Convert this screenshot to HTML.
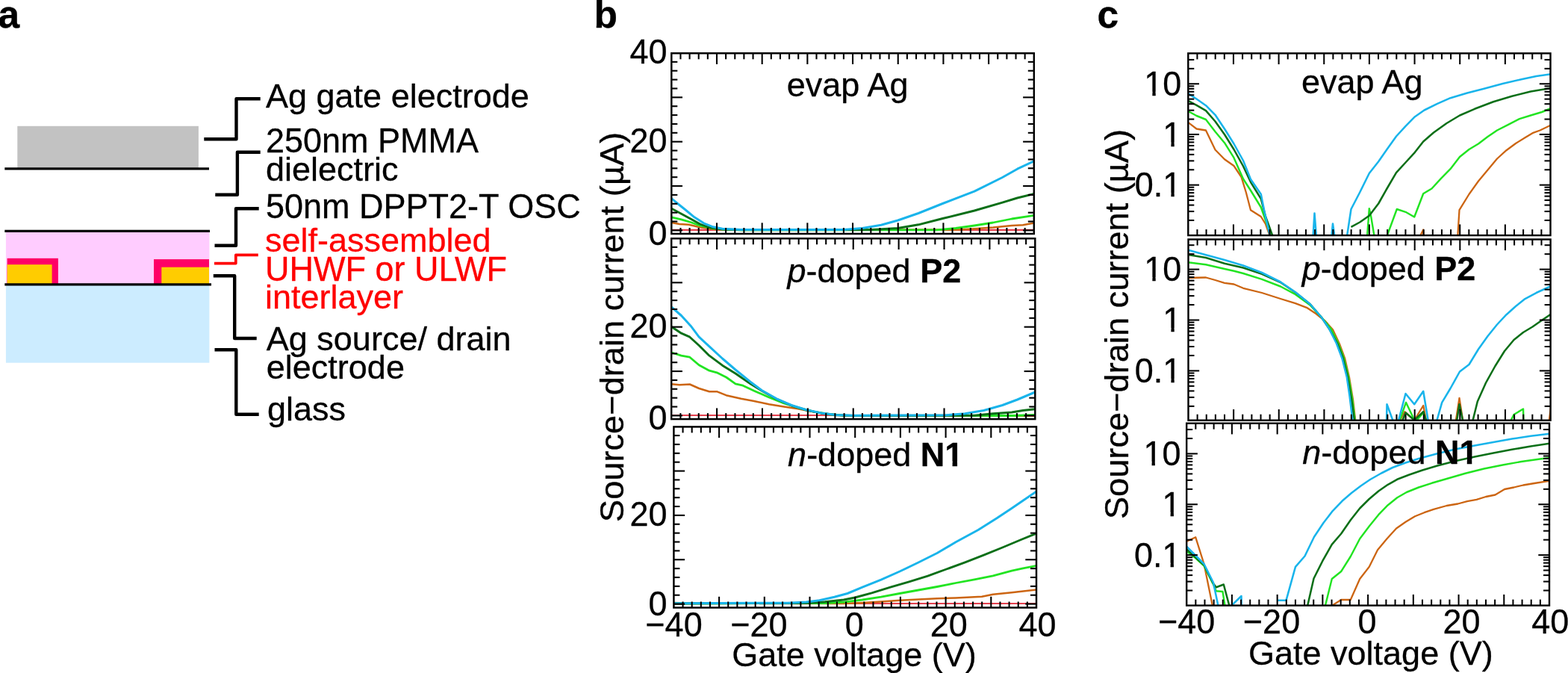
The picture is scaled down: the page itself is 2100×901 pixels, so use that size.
<!DOCTYPE html>
<html lang="en"><head><meta charset="utf-8"><title>Figure</title>
<style>
html,body{margin:0;padding:0;background:#fff;}
body{width:2100px;height:901px;overflow:hidden;}
svg{display:block;font-family:"Liberation Sans", sans-serif;}
svg text{white-space:pre;stroke-width:0.3px;stroke-linejoin:round;}
</style></head><body>
<svg width="2100" height="901" viewBox="0 0 2100 901">
<rect x="0" y="0" width="2100" height="901" fill="#fff"/>
<text x="-2.4" y="36.6" font-size="51.5" fill="#000" stroke="#000" text-anchor="start" font-weight="bold" >a</text>
<text x="795.4" y="36.6" font-size="51.5" fill="#000" stroke="#000" text-anchor="start" font-weight="bold" >b</text>
<text x="1469.4" y="36.6" font-size="51.5" fill="#000" stroke="#000" text-anchor="start" font-weight="bold" >c</text>
<rect x="23.30" y="168.80" width="242.60" height="56.20" fill="#C2C2C2"/>
<line x1="6.30" y1="225.80" x2="280.00" y2="225.80" stroke="#000" stroke-width="3.3" stroke-linecap="butt"/>
<rect x="7.90" y="310.00" width="272.50" height="70.00" fill="#FFCCFF"/>
<rect x="9.60" y="345.80" width="68.30" height="34.20" fill="#FF0066"/>
<rect x="9.60" y="354.20" width="60.00" height="25.80" fill="#FFCC00"/>
<rect x="206.00" y="347.10" width="74.00" height="32.90" fill="#FF0066"/>
<rect x="216.30" y="357.70" width="63.70" height="22.30" fill="#FFCC00"/>
<rect x="7.90" y="381.00" width="272.50" height="104.70" fill="#CCECFF"/>
<line x1="6.30" y1="309.40" x2="281.00" y2="309.40" stroke="#000" stroke-width="3.2" stroke-linecap="butt"/>
<line x1="6.30" y1="380.80" x2="283.00" y2="380.80" stroke="#000" stroke-width="3.2" stroke-linecap="butt"/>
<polyline points="273.30,186.30 316.50,186.30 316.50,132.30 348.70,132.30" fill="none" stroke="#000" stroke-width="4.4" stroke-linejoin="round" stroke-linecap="butt"/>
<polyline points="348.70,203.70 317.90,203.70 317.90,260.80 288.30,260.80" fill="none" stroke="#000" stroke-width="4.4" stroke-linejoin="round" stroke-linecap="butt"/>
<polyline points="346.70,279.20 316.00,279.20 316.00,328.70 287.50,328.70" fill="none" stroke="#000" stroke-width="4.4" stroke-linejoin="round" stroke-linecap="butt"/>
<polyline points="287.00,352.60 315.80,352.60 315.80,341.40 345.80,341.40" fill="none" stroke="#FF0000" stroke-width="3.7" stroke-linejoin="round" stroke-linecap="butt"/>
<polyline points="285.80,369.20 314.20,369.20 314.20,453.00 343.70,453.00" fill="none" stroke="#000" stroke-width="4.4" stroke-linejoin="round" stroke-linecap="butt"/>
<polyline points="287.50,468.30 316.30,468.30 316.30,554.70 346.70,554.70" fill="none" stroke="#000" stroke-width="4.4" stroke-linejoin="round" stroke-linecap="butt"/>
<text transform="translate(356,143.7) scale(1,1.0)" font-size="45" fill="#000" stroke="#000">Ag gate electrode</text>
<text transform="translate(356,204.2) scale(1,1.015)" font-size="45" fill="#000" stroke="#000">250nm PMMA</text>
<text transform="translate(356,242.4) scale(1,1.0)" font-size="45" fill="#000" stroke="#000">dielectric</text>
<text transform="translate(356,291.9) scale(1,1.02)" font-size="45" fill="#000" stroke="#000">50nm DPPT2-T OSC</text>
<text transform="translate(355,337) scale(1,1.0)" font-size="45" fill="#FF0000" stroke="#FF0000">self-assembled</text>
<text transform="translate(355,376.1) scale(1,1.02)" font-size="45" fill="#FF0000" stroke="#FF0000">UHWF or ULWF</text>
<text transform="translate(355,413.2) scale(1,1.0)" font-size="45" fill="#FF0000" stroke="#FF0000">interlayer</text>
<text transform="translate(356.8,469.4) scale(1,1.0)" font-size="45" fill="#000" stroke="#000">Ag source/ drain</text>
<text transform="translate(356.8,507.1) scale(1,1.0)" font-size="45" fill="#000" stroke="#000">electrode</text>
<text transform="translate(358,562.5) scale(1,1.0)" font-size="45" fill="#000" stroke="#000">glass</text>
<defs>
<clipPath id="cp0"><rect x="899.3" y="71.3" width="485.5" height="241.7"/></clipPath>
<clipPath id="cp1"><rect x="899.2" y="319.3" width="487.0999999999999" height="241.8"/></clipPath>
<clipPath id="cp2"><rect x="902.4" y="571.4" width="485.6" height="242.10000000000002"/></clipPath>
<clipPath id="cp3"><rect x="1591.3" y="71.4" width="485.20000000000005" height="243.70000000000002"/></clipPath>
<clipPath id="cp4"><rect x="1591.5" y="320.5" width="485.0999999999999" height="242.20000000000005"/></clipPath>
<clipPath id="cp5"><rect x="1589.2" y="566.7" width="485.79999999999995" height="243.89999999999998"/></clipPath>
</defs>
<polyline points="899.5,307.9 1385.5,307.9" fill="none" stroke="#E4404E" stroke-width="2.1" stroke-linejoin="round" stroke-linecap="butt" clip-path="url(#cp0)"/>
<polyline points="899.5,298.0 910.0,300.0 922.5,300.8 937.5,304.2 955.0,306.8 980.0,307.8 1280.0,307.8 1305.0,306.2 1330.0,304.5 1355.0,302.0 1370.0,301.2 1386.2,298.2" fill="none" stroke="#CC6512" stroke-width="2.5" stroke-linejoin="round" stroke-linecap="butt" clip-path="url(#cp0)"/>
<polyline points="899.5,290.8 912.5,293.8 925.0,297.5 937.5,302.0 952.5,305.5 967.5,307.2 992.5,307.8 1255.0,307.8 1280.0,305.5 1305.0,302.0 1330.0,298.0 1355.0,293.0 1386.2,288.2" fill="none" stroke="#22E422" stroke-width="2.8" stroke-linejoin="round" stroke-linecap="butt" clip-path="url(#cp0)"/>
<polyline points="899.5,279.2 912.5,286.2 925.0,293.0 937.5,300.0 950.0,304.5 967.5,307.0 992.5,307.8 1167.5,307.5 1202.5,305.5 1230.0,300.8 1262.5,292.5 1305.0,282.0 1342.5,271.2 1362.5,265.0 1386.2,259.2" fill="none" stroke="#0B6F18" stroke-width="2.9" stroke-linejoin="round" stroke-linecap="butt" clip-path="url(#cp0)"/>
<polyline points="899.5,265.8 907.5,272.5 917.5,280.5 930.0,290.8 942.5,298.8 955.0,303.8 967.5,306.2 992.5,307.5 1130.0,307.5 1155.0,305.5 1180.0,301.2 1202.5,295.0 1230.0,285.5 1262.5,272.5 1305.0,256.2 1342.5,237.5 1362.5,226.2 1386.2,215.0" fill="none" stroke="#19B4EB" stroke-width="3.0" stroke-linejoin="round" stroke-linecap="butt" clip-path="url(#cp0)"/>
<polyline points="899.5,556.0 1385.5,556.0" fill="none" stroke="#E4404E" stroke-width="2.1" stroke-linejoin="round" stroke-linecap="butt" clip-path="url(#cp1)"/>
<polyline points="899.5,514.2 910.0,515.2 923.8,514.5 936.2,520.0 950.0,524.2 960.0,524.2 972.5,529.2 992.5,533.8 1010.0,537.0 1030.0,541.2 1050.0,544.5 1070.0,547.5 1090.0,551.5 1110.0,554.5 1130.0,556.2 1386.2,556.8" fill="none" stroke="#CC6512" stroke-width="2.5" stroke-linejoin="round" stroke-linecap="butt" clip-path="url(#cp1)"/>
<polyline points="899.5,472.0 912.5,476.2 923.8,478.2 936.2,488.8 950.0,496.2 960.0,498.8 972.5,505.0 985.0,513.8 995.0,516.2 1010.0,523.2 1030.0,532.0 1050.0,540.0 1070.0,546.2 1090.0,551.2 1110.0,554.5 1130.0,556.2 1355.0,556.5 1386.2,555.5" fill="none" stroke="#22E422" stroke-width="2.8" stroke-linejoin="round" stroke-linecap="butt" clip-path="url(#cp1)"/>
<polyline points="899.5,437.5 912.5,446.2 923.8,451.2 936.2,462.5 950.0,476.2 967.5,489.2 985.0,500.0 1005.0,513.8 1020.0,523.0 1040.0,534.2 1060.0,543.0 1080.0,549.2 1100.0,553.2 1120.0,555.8 1142.5,556.5 1305.0,556.2 1330.0,553.8 1355.0,552.0 1370.0,549.5 1386.2,547.8" fill="none" stroke="#0B6F18" stroke-width="2.9" stroke-linejoin="round" stroke-linecap="butt" clip-path="url(#cp1)"/>
<polyline points="899.5,411.2 912.5,422.5 925.0,436.2 936.2,451.2 950.0,463.8 967.5,480.0 985.0,495.0 1005.0,511.2 1020.0,522.5 1040.0,533.8 1060.0,542.5 1080.0,548.8 1100.0,553.0 1120.0,555.5 1142.5,556.2 1267.5,555.8 1292.5,553.8 1317.5,549.5 1342.5,542.5 1362.5,535.0 1386.2,525.0" fill="none" stroke="#19B4EB" stroke-width="3.0" stroke-linejoin="round" stroke-linecap="butt" clip-path="url(#cp1)"/>
<polyline points="902.5,808.0 1388.0,808.0" fill="none" stroke="#E4404E" stroke-width="2.1" stroke-linejoin="round" stroke-linecap="butt" clip-path="url(#cp2)"/>
<polyline points="902.5,807.0 917.5,807.5 1130.0,808.0 1155.0,807.0 1180.0,805.5 1205.0,803.8 1230.0,802.5 1255.0,801.2 1280.0,800.5 1315.0,798.8 1330.0,795.8 1355.0,793.2 1388.8,789.5" fill="none" stroke="#CC6512" stroke-width="2.5" stroke-linejoin="round" stroke-linecap="butt" clip-path="url(#cp2)"/>
<polyline points="902.5,808.0 1105.0,807.5 1130.0,806.2 1155.0,803.0 1180.0,799.2 1205.0,794.5 1230.0,790.0 1255.0,785.5 1280.0,780.5 1305.0,775.8 1330.0,770.8 1355.0,764.2 1370.0,760.8 1388.8,757.2" fill="none" stroke="#22E422" stroke-width="2.8" stroke-linejoin="round" stroke-linecap="butt" clip-path="url(#cp2)"/>
<polyline points="902.5,808.0 1080.0,807.5 1105.0,805.8 1130.0,803.0 1145.0,800.0 1167.5,793.8 1192.5,786.2 1217.5,778.8 1242.5,771.2 1267.5,762.0 1292.5,752.8 1317.5,743.2 1342.5,733.0 1367.5,722.5 1388.8,713.8" fill="none" stroke="#0B6F18" stroke-width="2.9" stroke-linejoin="round" stroke-linecap="butt" clip-path="url(#cp2)"/>
<polyline points="902.5,807.8 1055.0,807.2 1080.0,806.0 1097.5,803.8 1117.5,799.2 1135.0,794.5 1155.0,786.2 1180.0,776.2 1205.0,765.0 1230.0,753.0 1255.0,740.5 1280.0,725.8 1310.0,709.5 1335.0,693.8 1355.0,680.5 1370.0,670.2 1388.8,657.5" fill="none" stroke="#19B4EB" stroke-width="3.0" stroke-linejoin="round" stroke-linecap="butt" clip-path="url(#cp2)"/>
<polyline points="1591.2,163.8 1602.5,172.5 1615.0,174.5 1627.5,200.5 1640.0,213.2 1652.5,222.0 1662.5,237.0 1668.8,257.5 1675.0,281.2 1688.8,290.0 1695.0,300.0 1701.2,317.5" fill="none" stroke="#CC6512" stroke-width="2.3" stroke-linejoin="round" stroke-linecap="butt" clip-path="url(#cp3)"/>
<polyline points="1901.2,317.5 1906.2,307.5 1906.5,317.5" fill="none" stroke="#CC6512" stroke-width="2.3" stroke-linejoin="round" stroke-linecap="butt" clip-path="url(#cp3)"/>
<polyline points="1952.2,317.5 1954.5,281.2 1967.5,260.0 1980.0,242.5 1992.5,227.5 2005.0,212.5 2017.5,201.2 2030.0,192.0 2042.5,184.2 2052.5,178.2 2062.5,174.5 2077.2,167.5" fill="none" stroke="#CC6512" stroke-width="2.3" stroke-linejoin="round" stroke-linecap="butt" clip-path="url(#cp3)"/>
<polyline points="1591.2,148.8 1602.5,155.0 1615.0,160.0 1627.5,176.2 1640.0,191.2 1652.5,211.2 1665.0,239.5 1675.0,255.0 1688.8,277.5 1695.0,295.0 1702.5,317.5" fill="none" stroke="#22E422" stroke-width="2.45" stroke-linejoin="round" stroke-linecap="butt" clip-path="url(#cp3)"/>
<polyline points="1831.0,317.5 1833.8,279.2 1836.2,290.0 1840.8,317.5" fill="none" stroke="#22E422" stroke-width="2.45" stroke-linejoin="round" stroke-linecap="butt" clip-path="url(#cp3)"/>
<polyline points="1857.0,317.5 1870.8,280.0 1882.5,283.8 1894.2,290.5 1906.2,259.2 1917.5,252.5 1930.0,238.8 1942.5,226.2 1955.0,210.0 1967.5,200.0 1980.0,192.5 1992.5,183.0 2005.0,174.5 2020.0,166.8 2035.0,159.2 2050.0,154.5 2065.0,150.0 2077.2,145.0" fill="none" stroke="#22E422" stroke-width="2.45" stroke-linejoin="round" stroke-linecap="butt" clip-path="url(#cp3)"/>
<polyline points="1591.2,135.0 1602.5,140.8 1615.0,148.2 1627.5,162.5 1640.0,180.0 1652.5,200.0 1665.0,222.5 1675.0,243.8 1688.8,266.2 1695.0,290.0 1705.0,317.5" fill="none" stroke="#0B6F18" stroke-width="2.55" stroke-linejoin="round" stroke-linecap="butt" clip-path="url(#cp3)"/>
<polyline points="1809.5,303.8 1821.2,297.5 1833.8,288.8 1846.2,272.5 1857.5,252.5 1870.0,231.2 1882.5,217.5 1895.0,203.8 1906.2,189.5 1920.0,177.5 1937.5,165.0 1955.0,154.5 1975.0,145.8 2000.0,136.2 2025.0,128.8 2050.0,122.5 2077.2,118.0" fill="none" stroke="#0B6F18" stroke-width="2.55" stroke-linejoin="round" stroke-linecap="butt" clip-path="url(#cp3)"/>
<polyline points="1591.2,125.0 1602.5,132.5 1615.0,141.2 1627.5,153.8 1640.0,172.5 1652.5,192.5 1665.0,215.0 1675.0,240.0 1688.8,260.0 1693.8,285.0 1701.2,317.5" fill="none" stroke="#19B4EB" stroke-width="2.55" stroke-linejoin="round" stroke-linecap="butt" clip-path="url(#cp3)"/>
<polyline points="1758.5,317.5 1760.5,285.5 1763.0,317.5" fill="none" stroke="#19B4EB" stroke-width="2.55" stroke-linejoin="round" stroke-linecap="butt" clip-path="url(#cp3)"/>
<polyline points="1783.2,317.5 1785.0,299.5 1787.5,317.5" fill="none" stroke="#19B4EB" stroke-width="2.55" stroke-linejoin="round" stroke-linecap="butt" clip-path="url(#cp3)"/>
<polyline points="1803.8,317.5 1809.5,280.0 1821.2,257.5 1833.8,232.0 1846.2,216.2 1857.5,200.0 1870.0,182.5 1882.5,168.8 1895.0,156.2 1907.5,147.5 1925.0,138.8 1942.5,131.2 1965.0,124.5 1987.5,118.8 2012.5,112.0 2037.5,106.2 2057.5,102.0 2077.2,99.2" fill="none" stroke="#19B4EB" stroke-width="2.55" stroke-linejoin="round" stroke-linecap="butt" clip-path="url(#cp3)"/>
<polyline points="1591.2,372.0 1615.0,371.5 1627.5,375.0 1640.0,378.8 1652.5,380.5 1665.0,385.8 1690.0,392.0 1715.0,400.0 1735.0,406.2 1750.0,411.8 1762.5,420.0 1775.0,430.0 1785.0,441.2 1793.8,460.0 1801.2,480.0 1807.0,505.0 1812.0,535.0 1815.5,565.0" fill="none" stroke="#CC6512" stroke-width="2.3" stroke-linejoin="round" stroke-linecap="butt" clip-path="url(#cp4)"/>
<polyline points="1873.8,565.0 1881.2,551.2 1894.2,562.5 1906.2,543.0 1910.5,565.0" fill="none" stroke="#CC6512" stroke-width="2.3" stroke-linejoin="round" stroke-linecap="butt" clip-path="url(#cp4)"/>
<polyline points="1949.5,565.0 1954.5,533.0 1959.5,565.0" fill="none" stroke="#CC6512" stroke-width="2.3" stroke-linejoin="round" stroke-linecap="butt" clip-path="url(#cp4)"/>
<polyline points="2074.5,565.0 2077.2,543.8" fill="none" stroke="#CC6512" stroke-width="2.3" stroke-linejoin="round" stroke-linecap="butt" clip-path="url(#cp4)"/>
<polyline points="1591.2,351.2 1615.0,354.2 1640.0,360.0 1652.5,362.8 1665.0,366.0 1690.0,373.8 1715.0,383.5 1735.0,394.2 1755.0,408.8 1770.0,425.0 1782.5,440.0 1792.5,460.0 1800.0,480.0 1806.2,505.0 1811.2,535.0 1815.0,565.0" fill="none" stroke="#22E422" stroke-width="2.45" stroke-linejoin="round" stroke-linecap="butt" clip-path="url(#cp4)"/>
<polyline points="1873.8,565.0 1883.0,538.8 1895.5,565.0 1906.2,552.5 1910.5,565.0" fill="none" stroke="#22E422" stroke-width="2.45" stroke-linejoin="round" stroke-linecap="butt" clip-path="url(#cp4)"/>
<polyline points="2022.5,565.0 2027.5,555.0 2040.0,547.5 2040.5,565.0" fill="none" stroke="#22E422" stroke-width="2.45" stroke-linejoin="round" stroke-linecap="butt" clip-path="url(#cp4)"/>
<polyline points="1591.2,341.0 1615.0,345.0 1640.0,352.8 1665.0,358.5 1690.0,366.8 1715.0,378.0 1735.0,391.5 1755.0,407.5 1770.0,425.0 1780.0,440.0 1791.2,460.0 1798.8,480.0 1805.0,505.0 1810.0,535.0 1814.2,565.0" fill="none" stroke="#0B6F18" stroke-width="2.55" stroke-linejoin="round" stroke-linecap="butt" clip-path="url(#cp4)"/>
<polyline points="1877.5,565.0 1882.5,552.5 1894.2,562.5 1906.2,551.2 1910.5,565.0" fill="none" stroke="#0B6F18" stroke-width="2.55" stroke-linejoin="round" stroke-linecap="butt" clip-path="url(#cp4)"/>
<polyline points="1950.8,565.0 1954.5,541.2 1959.5,565.0" fill="none" stroke="#0B6F18" stroke-width="2.55" stroke-linejoin="round" stroke-linecap="butt" clip-path="url(#cp4)"/>
<polyline points="1972.0,565.0 1978.8,537.5 1990.0,512.5 2002.5,490.0 2015.0,470.0 2027.5,455.0 2040.0,445.0 2052.5,437.5 2065.0,428.8 2077.2,420.5" fill="none" stroke="#0B6F18" stroke-width="2.55" stroke-linejoin="round" stroke-linecap="butt" clip-path="url(#cp4)"/>
<polyline points="1591.2,334.8 1615.0,341.2 1640.0,348.0 1665.0,355.5 1690.0,365.0 1715.0,377.5 1735.0,391.2 1755.0,407.5 1770.0,425.0 1780.0,440.0 1790.0,460.0 1797.5,480.0 1803.8,505.0 1807.5,530.0 1811.8,565.0" fill="none" stroke="#19B4EB" stroke-width="2.55" stroke-linejoin="round" stroke-linecap="butt" clip-path="url(#cp4)"/>
<polyline points="1857.0,565.0 1857.5,541.2 1866.2,565.0" fill="none" stroke="#19B4EB" stroke-width="2.55" stroke-linejoin="round" stroke-linecap="butt" clip-path="url(#cp4)"/>
<polyline points="1872.5,565.0 1882.5,527.0 1894.2,541.2 1906.2,523.8 1913.0,565.0" fill="none" stroke="#19B4EB" stroke-width="2.55" stroke-linejoin="round" stroke-linecap="butt" clip-path="url(#cp4)"/>
<polyline points="1923.8,565.0 1931.2,538.8 1942.5,520.0 1955.0,497.5 1967.5,488.0 1980.0,467.5 1992.5,450.0 2005.0,434.5 2017.5,421.2 2030.0,410.0 2042.5,400.0 2057.5,392.0 2077.2,383.0" fill="none" stroke="#19B4EB" stroke-width="2.55" stroke-linejoin="round" stroke-linecap="butt" clip-path="url(#cp4)"/>
<polyline points="1588.8,725.0 1601.2,719.2 1612.5,755.0 1624.2,812.5" fill="none" stroke="#CC6512" stroke-width="2.3" stroke-linejoin="round" stroke-linecap="butt" clip-path="url(#cp5)"/>
<polyline points="1781.2,812.5 1796.2,803.0 1808.8,803.0 1821.2,775.0 1833.8,758.8 1845.0,736.2 1857.5,721.2 1870.0,707.5 1882.5,698.8 1895.0,691.2 1907.5,686.2 1920.0,681.8 1937.5,677.0 1952.5,674.5 1965.0,671.2 1977.5,668.8 1990.0,665.0 2002.5,662.5 2015.0,655.0 2027.5,652.5 2040.0,649.5 2055.0,647.0 2075.0,643.8" fill="none" stroke="#CC6512" stroke-width="2.3" stroke-linejoin="round" stroke-linecap="butt" clip-path="url(#cp5)"/>
<polyline points="1588.8,737.5 1600.0,746.2 1612.5,757.5 1625.0,782.5 1628.8,791.2 1637.5,792.0 1640.8,812.5" fill="none" stroke="#22E422" stroke-width="2.45" stroke-linejoin="round" stroke-linecap="butt" clip-path="url(#cp5)"/>
<polyline points="1774.5,812.5 1783.8,775.0 1796.2,765.0 1808.8,745.0 1821.2,721.2 1833.8,704.5 1846.2,689.2 1858.8,676.2 1871.2,666.2 1883.8,659.0 1900.0,652.5 1917.5,646.8 1937.5,641.0 1962.5,633.8 1987.5,627.5 2012.5,622.5 2037.5,618.0 2062.5,614.5 2075.0,613.0" fill="none" stroke="#22E422" stroke-width="2.45" stroke-linejoin="round" stroke-linecap="butt" clip-path="url(#cp5)"/>
<polyline points="1588.8,735.0 1600.0,745.0 1612.5,756.2 1625.0,781.2 1628.8,786.2 1638.8,782.5 1646.8,812.5" fill="none" stroke="#0B6F18" stroke-width="2.55" stroke-linejoin="round" stroke-linecap="butt" clip-path="url(#cp5)"/>
<polyline points="1750.8,812.5 1759.5,774.5 1771.2,751.2 1783.8,728.8 1796.2,714.5 1808.8,696.2 1821.2,680.5 1833.8,668.0 1846.2,657.5 1858.8,648.8 1871.2,641.8 1887.5,635.5 1905.0,629.5 1925.0,623.5 1950.0,617.0 1975.0,611.5 2000.0,606.5 2025.0,601.8 2050.0,597.5 2075.0,593.8" fill="none" stroke="#0B6F18" stroke-width="2.55" stroke-linejoin="round" stroke-linecap="butt" clip-path="url(#cp5)"/>
<polyline points="1588.8,731.2 1600.0,742.5 1612.5,755.0 1625.0,780.0 1631.8,812.5" fill="none" stroke="#19B4EB" stroke-width="2.55" stroke-linejoin="round" stroke-linecap="butt" clip-path="url(#cp5)"/>
<polyline points="1647.5,812.5 1662.5,798.0 1662.8,812.5" fill="none" stroke="#19B4EB" stroke-width="2.55" stroke-linejoin="round" stroke-linecap="butt" clip-path="url(#cp5)"/>
<polyline points="1711.2,803.8 1722.5,803.8 1735.0,758.8 1747.5,744.5 1760.0,718.8 1772.5,700.0 1785.0,683.8 1797.5,670.8 1810.0,660.0 1822.5,650.5 1835.0,642.0 1850.0,633.5 1865.0,626.0 1882.5,619.5 1900.0,614.0 1925.0,607.2 1950.0,601.2 1975.0,596.5 2000.0,592.0 2025.0,587.5 2050.0,583.8 2075.0,580.8" fill="none" stroke="#19B4EB" stroke-width="2.55" stroke-linejoin="round" stroke-linecap="butt" clip-path="url(#cp5)"/>
<line x1="911.44" y1="71.30" x2="911.44" y2="79.30" stroke="#000" stroke-width="2.1" stroke-linecap="butt"/>
<line x1="911.44" y1="313.00" x2="911.44" y2="305.00" stroke="#000" stroke-width="2.1" stroke-linecap="butt"/>
<line x1="923.57" y1="71.30" x2="923.57" y2="79.30" stroke="#000" stroke-width="2.1" stroke-linecap="butt"/>
<line x1="923.57" y1="313.00" x2="923.57" y2="305.00" stroke="#000" stroke-width="2.1" stroke-linecap="butt"/>
<line x1="935.71" y1="71.30" x2="935.71" y2="79.30" stroke="#000" stroke-width="2.1" stroke-linecap="butt"/>
<line x1="935.71" y1="313.00" x2="935.71" y2="305.00" stroke="#000" stroke-width="2.1" stroke-linecap="butt"/>
<line x1="947.85" y1="71.30" x2="947.85" y2="79.30" stroke="#000" stroke-width="2.1" stroke-linecap="butt"/>
<line x1="947.85" y1="313.00" x2="947.85" y2="305.00" stroke="#000" stroke-width="2.1" stroke-linecap="butt"/>
<line x1="959.99" y1="71.30" x2="959.99" y2="86.00" stroke="#000" stroke-width="2.1" stroke-linecap="butt"/>
<line x1="959.99" y1="313.00" x2="959.99" y2="298.30" stroke="#000" stroke-width="2.1" stroke-linecap="butt"/>
<line x1="972.12" y1="71.30" x2="972.12" y2="79.30" stroke="#000" stroke-width="2.1" stroke-linecap="butt"/>
<line x1="972.12" y1="313.00" x2="972.12" y2="305.00" stroke="#000" stroke-width="2.1" stroke-linecap="butt"/>
<line x1="984.26" y1="71.30" x2="984.26" y2="79.30" stroke="#000" stroke-width="2.1" stroke-linecap="butt"/>
<line x1="984.26" y1="313.00" x2="984.26" y2="305.00" stroke="#000" stroke-width="2.1" stroke-linecap="butt"/>
<line x1="996.40" y1="71.30" x2="996.40" y2="79.30" stroke="#000" stroke-width="2.1" stroke-linecap="butt"/>
<line x1="996.40" y1="313.00" x2="996.40" y2="305.00" stroke="#000" stroke-width="2.1" stroke-linecap="butt"/>
<line x1="1008.54" y1="71.30" x2="1008.54" y2="79.30" stroke="#000" stroke-width="2.1" stroke-linecap="butt"/>
<line x1="1008.54" y1="313.00" x2="1008.54" y2="305.00" stroke="#000" stroke-width="2.1" stroke-linecap="butt"/>
<line x1="1020.67" y1="71.30" x2="1020.67" y2="86.00" stroke="#000" stroke-width="2.1" stroke-linecap="butt"/>
<line x1="1020.67" y1="313.00" x2="1020.67" y2="298.30" stroke="#000" stroke-width="2.1" stroke-linecap="butt"/>
<line x1="1032.81" y1="71.30" x2="1032.81" y2="79.30" stroke="#000" stroke-width="2.1" stroke-linecap="butt"/>
<line x1="1032.81" y1="313.00" x2="1032.81" y2="305.00" stroke="#000" stroke-width="2.1" stroke-linecap="butt"/>
<line x1="1044.95" y1="71.30" x2="1044.95" y2="79.30" stroke="#000" stroke-width="2.1" stroke-linecap="butt"/>
<line x1="1044.95" y1="313.00" x2="1044.95" y2="305.00" stroke="#000" stroke-width="2.1" stroke-linecap="butt"/>
<line x1="1057.09" y1="71.30" x2="1057.09" y2="79.30" stroke="#000" stroke-width="2.1" stroke-linecap="butt"/>
<line x1="1057.09" y1="313.00" x2="1057.09" y2="305.00" stroke="#000" stroke-width="2.1" stroke-linecap="butt"/>
<line x1="1069.22" y1="71.30" x2="1069.22" y2="79.30" stroke="#000" stroke-width="2.1" stroke-linecap="butt"/>
<line x1="1069.22" y1="313.00" x2="1069.22" y2="305.00" stroke="#000" stroke-width="2.1" stroke-linecap="butt"/>
<line x1="1081.36" y1="71.30" x2="1081.36" y2="86.00" stroke="#000" stroke-width="2.1" stroke-linecap="butt"/>
<line x1="1081.36" y1="313.00" x2="1081.36" y2="298.30" stroke="#000" stroke-width="2.1" stroke-linecap="butt"/>
<line x1="1093.50" y1="71.30" x2="1093.50" y2="79.30" stroke="#000" stroke-width="2.1" stroke-linecap="butt"/>
<line x1="1093.50" y1="313.00" x2="1093.50" y2="305.00" stroke="#000" stroke-width="2.1" stroke-linecap="butt"/>
<line x1="1105.64" y1="71.30" x2="1105.64" y2="79.30" stroke="#000" stroke-width="2.1" stroke-linecap="butt"/>
<line x1="1105.64" y1="313.00" x2="1105.64" y2="305.00" stroke="#000" stroke-width="2.1" stroke-linecap="butt"/>
<line x1="1117.77" y1="71.30" x2="1117.77" y2="79.30" stroke="#000" stroke-width="2.1" stroke-linecap="butt"/>
<line x1="1117.77" y1="313.00" x2="1117.77" y2="305.00" stroke="#000" stroke-width="2.1" stroke-linecap="butt"/>
<line x1="1129.91" y1="71.30" x2="1129.91" y2="79.30" stroke="#000" stroke-width="2.1" stroke-linecap="butt"/>
<line x1="1129.91" y1="313.00" x2="1129.91" y2="305.00" stroke="#000" stroke-width="2.1" stroke-linecap="butt"/>
<line x1="1142.05" y1="71.30" x2="1142.05" y2="86.00" stroke="#000" stroke-width="2.1" stroke-linecap="butt"/>
<line x1="1142.05" y1="313.00" x2="1142.05" y2="298.30" stroke="#000" stroke-width="2.1" stroke-linecap="butt"/>
<line x1="1154.19" y1="71.30" x2="1154.19" y2="79.30" stroke="#000" stroke-width="2.1" stroke-linecap="butt"/>
<line x1="1154.19" y1="313.00" x2="1154.19" y2="305.00" stroke="#000" stroke-width="2.1" stroke-linecap="butt"/>
<line x1="1166.32" y1="71.30" x2="1166.32" y2="79.30" stroke="#000" stroke-width="2.1" stroke-linecap="butt"/>
<line x1="1166.32" y1="313.00" x2="1166.32" y2="305.00" stroke="#000" stroke-width="2.1" stroke-linecap="butt"/>
<line x1="1178.46" y1="71.30" x2="1178.46" y2="79.30" stroke="#000" stroke-width="2.1" stroke-linecap="butt"/>
<line x1="1178.46" y1="313.00" x2="1178.46" y2="305.00" stroke="#000" stroke-width="2.1" stroke-linecap="butt"/>
<line x1="1190.60" y1="71.30" x2="1190.60" y2="79.30" stroke="#000" stroke-width="2.1" stroke-linecap="butt"/>
<line x1="1190.60" y1="313.00" x2="1190.60" y2="305.00" stroke="#000" stroke-width="2.1" stroke-linecap="butt"/>
<line x1="1202.74" y1="71.30" x2="1202.74" y2="86.00" stroke="#000" stroke-width="2.1" stroke-linecap="butt"/>
<line x1="1202.74" y1="313.00" x2="1202.74" y2="298.30" stroke="#000" stroke-width="2.1" stroke-linecap="butt"/>
<line x1="1214.88" y1="71.30" x2="1214.88" y2="79.30" stroke="#000" stroke-width="2.1" stroke-linecap="butt"/>
<line x1="1214.88" y1="313.00" x2="1214.88" y2="305.00" stroke="#000" stroke-width="2.1" stroke-linecap="butt"/>
<line x1="1227.01" y1="71.30" x2="1227.01" y2="79.30" stroke="#000" stroke-width="2.1" stroke-linecap="butt"/>
<line x1="1227.01" y1="313.00" x2="1227.01" y2="305.00" stroke="#000" stroke-width="2.1" stroke-linecap="butt"/>
<line x1="1239.15" y1="71.30" x2="1239.15" y2="79.30" stroke="#000" stroke-width="2.1" stroke-linecap="butt"/>
<line x1="1239.15" y1="313.00" x2="1239.15" y2="305.00" stroke="#000" stroke-width="2.1" stroke-linecap="butt"/>
<line x1="1251.29" y1="71.30" x2="1251.29" y2="79.30" stroke="#000" stroke-width="2.1" stroke-linecap="butt"/>
<line x1="1251.29" y1="313.00" x2="1251.29" y2="305.00" stroke="#000" stroke-width="2.1" stroke-linecap="butt"/>
<line x1="1263.42" y1="71.30" x2="1263.42" y2="86.00" stroke="#000" stroke-width="2.1" stroke-linecap="butt"/>
<line x1="1263.42" y1="313.00" x2="1263.42" y2="298.30" stroke="#000" stroke-width="2.1" stroke-linecap="butt"/>
<line x1="1275.56" y1="71.30" x2="1275.56" y2="79.30" stroke="#000" stroke-width="2.1" stroke-linecap="butt"/>
<line x1="1275.56" y1="313.00" x2="1275.56" y2="305.00" stroke="#000" stroke-width="2.1" stroke-linecap="butt"/>
<line x1="1287.70" y1="71.30" x2="1287.70" y2="79.30" stroke="#000" stroke-width="2.1" stroke-linecap="butt"/>
<line x1="1287.70" y1="313.00" x2="1287.70" y2="305.00" stroke="#000" stroke-width="2.1" stroke-linecap="butt"/>
<line x1="1299.84" y1="71.30" x2="1299.84" y2="79.30" stroke="#000" stroke-width="2.1" stroke-linecap="butt"/>
<line x1="1299.84" y1="313.00" x2="1299.84" y2="305.00" stroke="#000" stroke-width="2.1" stroke-linecap="butt"/>
<line x1="1311.97" y1="71.30" x2="1311.97" y2="79.30" stroke="#000" stroke-width="2.1" stroke-linecap="butt"/>
<line x1="1311.97" y1="313.00" x2="1311.97" y2="305.00" stroke="#000" stroke-width="2.1" stroke-linecap="butt"/>
<line x1="1324.11" y1="71.30" x2="1324.11" y2="86.00" stroke="#000" stroke-width="2.1" stroke-linecap="butt"/>
<line x1="1324.11" y1="313.00" x2="1324.11" y2="298.30" stroke="#000" stroke-width="2.1" stroke-linecap="butt"/>
<line x1="1336.25" y1="71.30" x2="1336.25" y2="79.30" stroke="#000" stroke-width="2.1" stroke-linecap="butt"/>
<line x1="1336.25" y1="313.00" x2="1336.25" y2="305.00" stroke="#000" stroke-width="2.1" stroke-linecap="butt"/>
<line x1="1348.39" y1="71.30" x2="1348.39" y2="79.30" stroke="#000" stroke-width="2.1" stroke-linecap="butt"/>
<line x1="1348.39" y1="313.00" x2="1348.39" y2="305.00" stroke="#000" stroke-width="2.1" stroke-linecap="butt"/>
<line x1="1360.53" y1="71.30" x2="1360.53" y2="79.30" stroke="#000" stroke-width="2.1" stroke-linecap="butt"/>
<line x1="1360.53" y1="313.00" x2="1360.53" y2="305.00" stroke="#000" stroke-width="2.1" stroke-linecap="butt"/>
<line x1="1372.66" y1="71.30" x2="1372.66" y2="79.30" stroke="#000" stroke-width="2.1" stroke-linecap="butt"/>
<line x1="1372.66" y1="313.00" x2="1372.66" y2="305.00" stroke="#000" stroke-width="2.1" stroke-linecap="butt"/>
<line x1="899.30" y1="308.40" x2="914.00" y2="308.40" stroke="#000" stroke-width="2.1" stroke-linecap="butt"/>
<line x1="1384.80" y1="308.40" x2="1370.10" y2="308.40" stroke="#000" stroke-width="2.1" stroke-linecap="butt"/>
<line x1="899.30" y1="249.05" x2="914.00" y2="249.05" stroke="#000" stroke-width="2.1" stroke-linecap="butt"/>
<line x1="1384.80" y1="249.05" x2="1370.10" y2="249.05" stroke="#000" stroke-width="2.1" stroke-linecap="butt"/>
<line x1="899.30" y1="189.70" x2="914.00" y2="189.70" stroke="#000" stroke-width="2.1" stroke-linecap="butt"/>
<line x1="1384.80" y1="189.70" x2="1370.10" y2="189.70" stroke="#000" stroke-width="2.1" stroke-linecap="butt"/>
<line x1="899.30" y1="130.35" x2="914.00" y2="130.35" stroke="#000" stroke-width="2.1" stroke-linecap="butt"/>
<line x1="1384.80" y1="130.35" x2="1370.10" y2="130.35" stroke="#000" stroke-width="2.1" stroke-linecap="butt"/>
<line x1="899.30" y1="296.53" x2="907.30" y2="296.53" stroke="#000" stroke-width="2.1" stroke-linecap="butt"/>
<line x1="1384.80" y1="296.53" x2="1376.80" y2="296.53" stroke="#000" stroke-width="2.1" stroke-linecap="butt"/>
<line x1="899.30" y1="284.66" x2="907.30" y2="284.66" stroke="#000" stroke-width="2.1" stroke-linecap="butt"/>
<line x1="1384.80" y1="284.66" x2="1376.80" y2="284.66" stroke="#000" stroke-width="2.1" stroke-linecap="butt"/>
<line x1="899.30" y1="272.79" x2="907.30" y2="272.79" stroke="#000" stroke-width="2.1" stroke-linecap="butt"/>
<line x1="1384.80" y1="272.79" x2="1376.80" y2="272.79" stroke="#000" stroke-width="2.1" stroke-linecap="butt"/>
<line x1="899.30" y1="260.92" x2="907.30" y2="260.92" stroke="#000" stroke-width="2.1" stroke-linecap="butt"/>
<line x1="1384.80" y1="260.92" x2="1376.80" y2="260.92" stroke="#000" stroke-width="2.1" stroke-linecap="butt"/>
<line x1="899.30" y1="237.18" x2="907.30" y2="237.18" stroke="#000" stroke-width="2.1" stroke-linecap="butt"/>
<line x1="1384.80" y1="237.18" x2="1376.80" y2="237.18" stroke="#000" stroke-width="2.1" stroke-linecap="butt"/>
<line x1="899.30" y1="225.31" x2="907.30" y2="225.31" stroke="#000" stroke-width="2.1" stroke-linecap="butt"/>
<line x1="1384.80" y1="225.31" x2="1376.80" y2="225.31" stroke="#000" stroke-width="2.1" stroke-linecap="butt"/>
<line x1="899.30" y1="213.44" x2="907.30" y2="213.44" stroke="#000" stroke-width="2.1" stroke-linecap="butt"/>
<line x1="1384.80" y1="213.44" x2="1376.80" y2="213.44" stroke="#000" stroke-width="2.1" stroke-linecap="butt"/>
<line x1="899.30" y1="201.57" x2="907.30" y2="201.57" stroke="#000" stroke-width="2.1" stroke-linecap="butt"/>
<line x1="1384.80" y1="201.57" x2="1376.80" y2="201.57" stroke="#000" stroke-width="2.1" stroke-linecap="butt"/>
<line x1="899.30" y1="177.83" x2="907.30" y2="177.83" stroke="#000" stroke-width="2.1" stroke-linecap="butt"/>
<line x1="1384.80" y1="177.83" x2="1376.80" y2="177.83" stroke="#000" stroke-width="2.1" stroke-linecap="butt"/>
<line x1="899.30" y1="165.96" x2="907.30" y2="165.96" stroke="#000" stroke-width="2.1" stroke-linecap="butt"/>
<line x1="1384.80" y1="165.96" x2="1376.80" y2="165.96" stroke="#000" stroke-width="2.1" stroke-linecap="butt"/>
<line x1="899.30" y1="154.09" x2="907.30" y2="154.09" stroke="#000" stroke-width="2.1" stroke-linecap="butt"/>
<line x1="1384.80" y1="154.09" x2="1376.80" y2="154.09" stroke="#000" stroke-width="2.1" stroke-linecap="butt"/>
<line x1="899.30" y1="142.22" x2="907.30" y2="142.22" stroke="#000" stroke-width="2.1" stroke-linecap="butt"/>
<line x1="1384.80" y1="142.22" x2="1376.80" y2="142.22" stroke="#000" stroke-width="2.1" stroke-linecap="butt"/>
<line x1="899.30" y1="118.48" x2="907.30" y2="118.48" stroke="#000" stroke-width="2.1" stroke-linecap="butt"/>
<line x1="1384.80" y1="118.48" x2="1376.80" y2="118.48" stroke="#000" stroke-width="2.1" stroke-linecap="butt"/>
<line x1="899.30" y1="106.61" x2="907.30" y2="106.61" stroke="#000" stroke-width="2.1" stroke-linecap="butt"/>
<line x1="1384.80" y1="106.61" x2="1376.80" y2="106.61" stroke="#000" stroke-width="2.1" stroke-linecap="butt"/>
<line x1="899.30" y1="94.74" x2="907.30" y2="94.74" stroke="#000" stroke-width="2.1" stroke-linecap="butt"/>
<line x1="1384.80" y1="94.74" x2="1376.80" y2="94.74" stroke="#000" stroke-width="2.1" stroke-linecap="butt"/>
<line x1="899.30" y1="82.87" x2="907.30" y2="82.87" stroke="#000" stroke-width="2.1" stroke-linecap="butt"/>
<line x1="1384.80" y1="82.87" x2="1376.80" y2="82.87" stroke="#000" stroke-width="2.1" stroke-linecap="butt"/>
<rect x="899.3" y="71.3" width="485.5" height="241.7" fill="none" stroke="#000" stroke-width="2.45"/>
<text transform="translate(893.60,327.70) scale(1,1.035)" font-size="45" stroke="#000" text-anchor="end">0</text>
<text transform="translate(893.60,204.10) scale(1,1.035)" font-size="45" stroke="#000" text-anchor="end">20</text>
<text transform="translate(893.60,85.40) scale(1,1.035)" font-size="45" stroke="#000" text-anchor="end">40</text>
<line x1="911.38" y1="319.30" x2="911.38" y2="327.30" stroke="#000" stroke-width="2.1" stroke-linecap="butt"/>
<line x1="911.38" y1="561.10" x2="911.38" y2="553.10" stroke="#000" stroke-width="2.1" stroke-linecap="butt"/>
<line x1="923.56" y1="319.30" x2="923.56" y2="327.30" stroke="#000" stroke-width="2.1" stroke-linecap="butt"/>
<line x1="923.56" y1="561.10" x2="923.56" y2="553.10" stroke="#000" stroke-width="2.1" stroke-linecap="butt"/>
<line x1="935.73" y1="319.30" x2="935.73" y2="327.30" stroke="#000" stroke-width="2.1" stroke-linecap="butt"/>
<line x1="935.73" y1="561.10" x2="935.73" y2="553.10" stroke="#000" stroke-width="2.1" stroke-linecap="butt"/>
<line x1="947.91" y1="319.30" x2="947.91" y2="327.30" stroke="#000" stroke-width="2.1" stroke-linecap="butt"/>
<line x1="947.91" y1="561.10" x2="947.91" y2="553.10" stroke="#000" stroke-width="2.1" stroke-linecap="butt"/>
<line x1="960.09" y1="319.30" x2="960.09" y2="334.00" stroke="#000" stroke-width="2.1" stroke-linecap="butt"/>
<line x1="960.09" y1="561.10" x2="960.09" y2="546.40" stroke="#000" stroke-width="2.1" stroke-linecap="butt"/>
<line x1="972.26" y1="319.30" x2="972.26" y2="327.30" stroke="#000" stroke-width="2.1" stroke-linecap="butt"/>
<line x1="972.26" y1="561.10" x2="972.26" y2="553.10" stroke="#000" stroke-width="2.1" stroke-linecap="butt"/>
<line x1="984.44" y1="319.30" x2="984.44" y2="327.30" stroke="#000" stroke-width="2.1" stroke-linecap="butt"/>
<line x1="984.44" y1="561.10" x2="984.44" y2="553.10" stroke="#000" stroke-width="2.1" stroke-linecap="butt"/>
<line x1="996.62" y1="319.30" x2="996.62" y2="327.30" stroke="#000" stroke-width="2.1" stroke-linecap="butt"/>
<line x1="996.62" y1="561.10" x2="996.62" y2="553.10" stroke="#000" stroke-width="2.1" stroke-linecap="butt"/>
<line x1="1008.80" y1="319.30" x2="1008.80" y2="327.30" stroke="#000" stroke-width="2.1" stroke-linecap="butt"/>
<line x1="1008.80" y1="561.10" x2="1008.80" y2="553.10" stroke="#000" stroke-width="2.1" stroke-linecap="butt"/>
<line x1="1020.98" y1="319.30" x2="1020.98" y2="334.00" stroke="#000" stroke-width="2.1" stroke-linecap="butt"/>
<line x1="1020.98" y1="561.10" x2="1020.98" y2="546.40" stroke="#000" stroke-width="2.1" stroke-linecap="butt"/>
<line x1="1033.15" y1="319.30" x2="1033.15" y2="327.30" stroke="#000" stroke-width="2.1" stroke-linecap="butt"/>
<line x1="1033.15" y1="561.10" x2="1033.15" y2="553.10" stroke="#000" stroke-width="2.1" stroke-linecap="butt"/>
<line x1="1045.33" y1="319.30" x2="1045.33" y2="327.30" stroke="#000" stroke-width="2.1" stroke-linecap="butt"/>
<line x1="1045.33" y1="561.10" x2="1045.33" y2="553.10" stroke="#000" stroke-width="2.1" stroke-linecap="butt"/>
<line x1="1057.51" y1="319.30" x2="1057.51" y2="327.30" stroke="#000" stroke-width="2.1" stroke-linecap="butt"/>
<line x1="1057.51" y1="561.10" x2="1057.51" y2="553.10" stroke="#000" stroke-width="2.1" stroke-linecap="butt"/>
<line x1="1069.68" y1="319.30" x2="1069.68" y2="327.30" stroke="#000" stroke-width="2.1" stroke-linecap="butt"/>
<line x1="1069.68" y1="561.10" x2="1069.68" y2="553.10" stroke="#000" stroke-width="2.1" stroke-linecap="butt"/>
<line x1="1081.86" y1="319.30" x2="1081.86" y2="334.00" stroke="#000" stroke-width="2.1" stroke-linecap="butt"/>
<line x1="1081.86" y1="561.10" x2="1081.86" y2="546.40" stroke="#000" stroke-width="2.1" stroke-linecap="butt"/>
<line x1="1094.04" y1="319.30" x2="1094.04" y2="327.30" stroke="#000" stroke-width="2.1" stroke-linecap="butt"/>
<line x1="1094.04" y1="561.10" x2="1094.04" y2="553.10" stroke="#000" stroke-width="2.1" stroke-linecap="butt"/>
<line x1="1106.22" y1="319.30" x2="1106.22" y2="327.30" stroke="#000" stroke-width="2.1" stroke-linecap="butt"/>
<line x1="1106.22" y1="561.10" x2="1106.22" y2="553.10" stroke="#000" stroke-width="2.1" stroke-linecap="butt"/>
<line x1="1118.39" y1="319.30" x2="1118.39" y2="327.30" stroke="#000" stroke-width="2.1" stroke-linecap="butt"/>
<line x1="1118.39" y1="561.10" x2="1118.39" y2="553.10" stroke="#000" stroke-width="2.1" stroke-linecap="butt"/>
<line x1="1130.57" y1="319.30" x2="1130.57" y2="327.30" stroke="#000" stroke-width="2.1" stroke-linecap="butt"/>
<line x1="1130.57" y1="561.10" x2="1130.57" y2="553.10" stroke="#000" stroke-width="2.1" stroke-linecap="butt"/>
<line x1="1142.75" y1="319.30" x2="1142.75" y2="334.00" stroke="#000" stroke-width="2.1" stroke-linecap="butt"/>
<line x1="1142.75" y1="561.10" x2="1142.75" y2="546.40" stroke="#000" stroke-width="2.1" stroke-linecap="butt"/>
<line x1="1154.93" y1="319.30" x2="1154.93" y2="327.30" stroke="#000" stroke-width="2.1" stroke-linecap="butt"/>
<line x1="1154.93" y1="561.10" x2="1154.93" y2="553.10" stroke="#000" stroke-width="2.1" stroke-linecap="butt"/>
<line x1="1167.11" y1="319.30" x2="1167.11" y2="327.30" stroke="#000" stroke-width="2.1" stroke-linecap="butt"/>
<line x1="1167.11" y1="561.10" x2="1167.11" y2="553.10" stroke="#000" stroke-width="2.1" stroke-linecap="butt"/>
<line x1="1179.28" y1="319.30" x2="1179.28" y2="327.30" stroke="#000" stroke-width="2.1" stroke-linecap="butt"/>
<line x1="1179.28" y1="561.10" x2="1179.28" y2="553.10" stroke="#000" stroke-width="2.1" stroke-linecap="butt"/>
<line x1="1191.46" y1="319.30" x2="1191.46" y2="327.30" stroke="#000" stroke-width="2.1" stroke-linecap="butt"/>
<line x1="1191.46" y1="561.10" x2="1191.46" y2="553.10" stroke="#000" stroke-width="2.1" stroke-linecap="butt"/>
<line x1="1203.64" y1="319.30" x2="1203.64" y2="334.00" stroke="#000" stroke-width="2.1" stroke-linecap="butt"/>
<line x1="1203.64" y1="561.10" x2="1203.64" y2="546.40" stroke="#000" stroke-width="2.1" stroke-linecap="butt"/>
<line x1="1215.82" y1="319.30" x2="1215.82" y2="327.30" stroke="#000" stroke-width="2.1" stroke-linecap="butt"/>
<line x1="1215.82" y1="561.10" x2="1215.82" y2="553.10" stroke="#000" stroke-width="2.1" stroke-linecap="butt"/>
<line x1="1227.99" y1="319.30" x2="1227.99" y2="327.30" stroke="#000" stroke-width="2.1" stroke-linecap="butt"/>
<line x1="1227.99" y1="561.10" x2="1227.99" y2="553.10" stroke="#000" stroke-width="2.1" stroke-linecap="butt"/>
<line x1="1240.17" y1="319.30" x2="1240.17" y2="327.30" stroke="#000" stroke-width="2.1" stroke-linecap="butt"/>
<line x1="1240.17" y1="561.10" x2="1240.17" y2="553.10" stroke="#000" stroke-width="2.1" stroke-linecap="butt"/>
<line x1="1252.35" y1="319.30" x2="1252.35" y2="327.30" stroke="#000" stroke-width="2.1" stroke-linecap="butt"/>
<line x1="1252.35" y1="561.10" x2="1252.35" y2="553.10" stroke="#000" stroke-width="2.1" stroke-linecap="butt"/>
<line x1="1264.53" y1="319.30" x2="1264.53" y2="334.00" stroke="#000" stroke-width="2.1" stroke-linecap="butt"/>
<line x1="1264.53" y1="561.10" x2="1264.53" y2="546.40" stroke="#000" stroke-width="2.1" stroke-linecap="butt"/>
<line x1="1276.70" y1="319.30" x2="1276.70" y2="327.30" stroke="#000" stroke-width="2.1" stroke-linecap="butt"/>
<line x1="1276.70" y1="561.10" x2="1276.70" y2="553.10" stroke="#000" stroke-width="2.1" stroke-linecap="butt"/>
<line x1="1288.88" y1="319.30" x2="1288.88" y2="327.30" stroke="#000" stroke-width="2.1" stroke-linecap="butt"/>
<line x1="1288.88" y1="561.10" x2="1288.88" y2="553.10" stroke="#000" stroke-width="2.1" stroke-linecap="butt"/>
<line x1="1301.06" y1="319.30" x2="1301.06" y2="327.30" stroke="#000" stroke-width="2.1" stroke-linecap="butt"/>
<line x1="1301.06" y1="561.10" x2="1301.06" y2="553.10" stroke="#000" stroke-width="2.1" stroke-linecap="butt"/>
<line x1="1313.24" y1="319.30" x2="1313.24" y2="327.30" stroke="#000" stroke-width="2.1" stroke-linecap="butt"/>
<line x1="1313.24" y1="561.10" x2="1313.24" y2="553.10" stroke="#000" stroke-width="2.1" stroke-linecap="butt"/>
<line x1="1325.41" y1="319.30" x2="1325.41" y2="334.00" stroke="#000" stroke-width="2.1" stroke-linecap="butt"/>
<line x1="1325.41" y1="561.10" x2="1325.41" y2="546.40" stroke="#000" stroke-width="2.1" stroke-linecap="butt"/>
<line x1="1337.59" y1="319.30" x2="1337.59" y2="327.30" stroke="#000" stroke-width="2.1" stroke-linecap="butt"/>
<line x1="1337.59" y1="561.10" x2="1337.59" y2="553.10" stroke="#000" stroke-width="2.1" stroke-linecap="butt"/>
<line x1="1349.77" y1="319.30" x2="1349.77" y2="327.30" stroke="#000" stroke-width="2.1" stroke-linecap="butt"/>
<line x1="1349.77" y1="561.10" x2="1349.77" y2="553.10" stroke="#000" stroke-width="2.1" stroke-linecap="butt"/>
<line x1="1361.94" y1="319.30" x2="1361.94" y2="327.30" stroke="#000" stroke-width="2.1" stroke-linecap="butt"/>
<line x1="1361.94" y1="561.10" x2="1361.94" y2="553.10" stroke="#000" stroke-width="2.1" stroke-linecap="butt"/>
<line x1="1374.12" y1="319.30" x2="1374.12" y2="327.30" stroke="#000" stroke-width="2.1" stroke-linecap="butt"/>
<line x1="1374.12" y1="561.10" x2="1374.12" y2="553.10" stroke="#000" stroke-width="2.1" stroke-linecap="butt"/>
<line x1="899.20" y1="556.40" x2="913.90" y2="556.40" stroke="#000" stroke-width="2.1" stroke-linecap="butt"/>
<line x1="1386.30" y1="556.40" x2="1371.60" y2="556.40" stroke="#000" stroke-width="2.1" stroke-linecap="butt"/>
<line x1="899.20" y1="497.05" x2="913.90" y2="497.05" stroke="#000" stroke-width="2.1" stroke-linecap="butt"/>
<line x1="1386.30" y1="497.05" x2="1371.60" y2="497.05" stroke="#000" stroke-width="2.1" stroke-linecap="butt"/>
<line x1="899.20" y1="437.70" x2="913.90" y2="437.70" stroke="#000" stroke-width="2.1" stroke-linecap="butt"/>
<line x1="1386.30" y1="437.70" x2="1371.60" y2="437.70" stroke="#000" stroke-width="2.1" stroke-linecap="butt"/>
<line x1="899.20" y1="378.35" x2="913.90" y2="378.35" stroke="#000" stroke-width="2.1" stroke-linecap="butt"/>
<line x1="1386.30" y1="378.35" x2="1371.60" y2="378.35" stroke="#000" stroke-width="2.1" stroke-linecap="butt"/>
<line x1="899.20" y1="544.53" x2="907.20" y2="544.53" stroke="#000" stroke-width="2.1" stroke-linecap="butt"/>
<line x1="1386.30" y1="544.53" x2="1378.30" y2="544.53" stroke="#000" stroke-width="2.1" stroke-linecap="butt"/>
<line x1="899.20" y1="532.66" x2="907.20" y2="532.66" stroke="#000" stroke-width="2.1" stroke-linecap="butt"/>
<line x1="1386.30" y1="532.66" x2="1378.30" y2="532.66" stroke="#000" stroke-width="2.1" stroke-linecap="butt"/>
<line x1="899.20" y1="520.79" x2="907.20" y2="520.79" stroke="#000" stroke-width="2.1" stroke-linecap="butt"/>
<line x1="1386.30" y1="520.79" x2="1378.30" y2="520.79" stroke="#000" stroke-width="2.1" stroke-linecap="butt"/>
<line x1="899.20" y1="508.92" x2="907.20" y2="508.92" stroke="#000" stroke-width="2.1" stroke-linecap="butt"/>
<line x1="1386.30" y1="508.92" x2="1378.30" y2="508.92" stroke="#000" stroke-width="2.1" stroke-linecap="butt"/>
<line x1="899.20" y1="485.18" x2="907.20" y2="485.18" stroke="#000" stroke-width="2.1" stroke-linecap="butt"/>
<line x1="1386.30" y1="485.18" x2="1378.30" y2="485.18" stroke="#000" stroke-width="2.1" stroke-linecap="butt"/>
<line x1="899.20" y1="473.31" x2="907.20" y2="473.31" stroke="#000" stroke-width="2.1" stroke-linecap="butt"/>
<line x1="1386.30" y1="473.31" x2="1378.30" y2="473.31" stroke="#000" stroke-width="2.1" stroke-linecap="butt"/>
<line x1="899.20" y1="461.44" x2="907.20" y2="461.44" stroke="#000" stroke-width="2.1" stroke-linecap="butt"/>
<line x1="1386.30" y1="461.44" x2="1378.30" y2="461.44" stroke="#000" stroke-width="2.1" stroke-linecap="butt"/>
<line x1="899.20" y1="449.57" x2="907.20" y2="449.57" stroke="#000" stroke-width="2.1" stroke-linecap="butt"/>
<line x1="1386.30" y1="449.57" x2="1378.30" y2="449.57" stroke="#000" stroke-width="2.1" stroke-linecap="butt"/>
<line x1="899.20" y1="425.83" x2="907.20" y2="425.83" stroke="#000" stroke-width="2.1" stroke-linecap="butt"/>
<line x1="1386.30" y1="425.83" x2="1378.30" y2="425.83" stroke="#000" stroke-width="2.1" stroke-linecap="butt"/>
<line x1="899.20" y1="413.96" x2="907.20" y2="413.96" stroke="#000" stroke-width="2.1" stroke-linecap="butt"/>
<line x1="1386.30" y1="413.96" x2="1378.30" y2="413.96" stroke="#000" stroke-width="2.1" stroke-linecap="butt"/>
<line x1="899.20" y1="402.09" x2="907.20" y2="402.09" stroke="#000" stroke-width="2.1" stroke-linecap="butt"/>
<line x1="1386.30" y1="402.09" x2="1378.30" y2="402.09" stroke="#000" stroke-width="2.1" stroke-linecap="butt"/>
<line x1="899.20" y1="390.22" x2="907.20" y2="390.22" stroke="#000" stroke-width="2.1" stroke-linecap="butt"/>
<line x1="1386.30" y1="390.22" x2="1378.30" y2="390.22" stroke="#000" stroke-width="2.1" stroke-linecap="butt"/>
<line x1="899.20" y1="366.48" x2="907.20" y2="366.48" stroke="#000" stroke-width="2.1" stroke-linecap="butt"/>
<line x1="1386.30" y1="366.48" x2="1378.30" y2="366.48" stroke="#000" stroke-width="2.1" stroke-linecap="butt"/>
<line x1="899.20" y1="354.61" x2="907.20" y2="354.61" stroke="#000" stroke-width="2.1" stroke-linecap="butt"/>
<line x1="1386.30" y1="354.61" x2="1378.30" y2="354.61" stroke="#000" stroke-width="2.1" stroke-linecap="butt"/>
<line x1="899.20" y1="342.74" x2="907.20" y2="342.74" stroke="#000" stroke-width="2.1" stroke-linecap="butt"/>
<line x1="1386.30" y1="342.74" x2="1378.30" y2="342.74" stroke="#000" stroke-width="2.1" stroke-linecap="butt"/>
<line x1="899.20" y1="330.87" x2="907.20" y2="330.87" stroke="#000" stroke-width="2.1" stroke-linecap="butt"/>
<line x1="1386.30" y1="330.87" x2="1378.30" y2="330.87" stroke="#000" stroke-width="2.1" stroke-linecap="butt"/>
<rect x="899.2" y="319.3" width="487.0999999999999" height="241.8" fill="none" stroke="#000" stroke-width="2.45"/>
<text transform="translate(893.60,575.40) scale(1,1.035)" font-size="45" stroke="#000" text-anchor="end">0</text>
<text transform="translate(893.60,452.10) scale(1,1.035)" font-size="45" stroke="#000" text-anchor="end">20</text>
<line x1="914.54" y1="571.40" x2="914.54" y2="579.40" stroke="#000" stroke-width="2.1" stroke-linecap="butt"/>
<line x1="914.54" y1="813.50" x2="914.54" y2="805.50" stroke="#000" stroke-width="2.1" stroke-linecap="butt"/>
<line x1="926.68" y1="571.40" x2="926.68" y2="579.40" stroke="#000" stroke-width="2.1" stroke-linecap="butt"/>
<line x1="926.68" y1="813.50" x2="926.68" y2="805.50" stroke="#000" stroke-width="2.1" stroke-linecap="butt"/>
<line x1="938.82" y1="571.40" x2="938.82" y2="579.40" stroke="#000" stroke-width="2.1" stroke-linecap="butt"/>
<line x1="938.82" y1="813.50" x2="938.82" y2="805.50" stroke="#000" stroke-width="2.1" stroke-linecap="butt"/>
<line x1="950.96" y1="571.40" x2="950.96" y2="579.40" stroke="#000" stroke-width="2.1" stroke-linecap="butt"/>
<line x1="950.96" y1="813.50" x2="950.96" y2="805.50" stroke="#000" stroke-width="2.1" stroke-linecap="butt"/>
<line x1="963.10" y1="571.40" x2="963.10" y2="586.10" stroke="#000" stroke-width="2.1" stroke-linecap="butt"/>
<line x1="963.10" y1="813.50" x2="963.10" y2="798.80" stroke="#000" stroke-width="2.1" stroke-linecap="butt"/>
<line x1="975.24" y1="571.40" x2="975.24" y2="579.40" stroke="#000" stroke-width="2.1" stroke-linecap="butt"/>
<line x1="975.24" y1="813.50" x2="975.24" y2="805.50" stroke="#000" stroke-width="2.1" stroke-linecap="butt"/>
<line x1="987.38" y1="571.40" x2="987.38" y2="579.40" stroke="#000" stroke-width="2.1" stroke-linecap="butt"/>
<line x1="987.38" y1="813.50" x2="987.38" y2="805.50" stroke="#000" stroke-width="2.1" stroke-linecap="butt"/>
<line x1="999.52" y1="571.40" x2="999.52" y2="579.40" stroke="#000" stroke-width="2.1" stroke-linecap="butt"/>
<line x1="999.52" y1="813.50" x2="999.52" y2="805.50" stroke="#000" stroke-width="2.1" stroke-linecap="butt"/>
<line x1="1011.66" y1="571.40" x2="1011.66" y2="579.40" stroke="#000" stroke-width="2.1" stroke-linecap="butt"/>
<line x1="1011.66" y1="813.50" x2="1011.66" y2="805.50" stroke="#000" stroke-width="2.1" stroke-linecap="butt"/>
<line x1="1023.80" y1="571.40" x2="1023.80" y2="586.10" stroke="#000" stroke-width="2.1" stroke-linecap="butt"/>
<line x1="1023.80" y1="813.50" x2="1023.80" y2="798.80" stroke="#000" stroke-width="2.1" stroke-linecap="butt"/>
<line x1="1035.94" y1="571.40" x2="1035.94" y2="579.40" stroke="#000" stroke-width="2.1" stroke-linecap="butt"/>
<line x1="1035.94" y1="813.50" x2="1035.94" y2="805.50" stroke="#000" stroke-width="2.1" stroke-linecap="butt"/>
<line x1="1048.08" y1="571.40" x2="1048.08" y2="579.40" stroke="#000" stroke-width="2.1" stroke-linecap="butt"/>
<line x1="1048.08" y1="813.50" x2="1048.08" y2="805.50" stroke="#000" stroke-width="2.1" stroke-linecap="butt"/>
<line x1="1060.22" y1="571.40" x2="1060.22" y2="579.40" stroke="#000" stroke-width="2.1" stroke-linecap="butt"/>
<line x1="1060.22" y1="813.50" x2="1060.22" y2="805.50" stroke="#000" stroke-width="2.1" stroke-linecap="butt"/>
<line x1="1072.36" y1="571.40" x2="1072.36" y2="579.40" stroke="#000" stroke-width="2.1" stroke-linecap="butt"/>
<line x1="1072.36" y1="813.50" x2="1072.36" y2="805.50" stroke="#000" stroke-width="2.1" stroke-linecap="butt"/>
<line x1="1084.50" y1="571.40" x2="1084.50" y2="586.10" stroke="#000" stroke-width="2.1" stroke-linecap="butt"/>
<line x1="1084.50" y1="813.50" x2="1084.50" y2="798.80" stroke="#000" stroke-width="2.1" stroke-linecap="butt"/>
<line x1="1096.64" y1="571.40" x2="1096.64" y2="579.40" stroke="#000" stroke-width="2.1" stroke-linecap="butt"/>
<line x1="1096.64" y1="813.50" x2="1096.64" y2="805.50" stroke="#000" stroke-width="2.1" stroke-linecap="butt"/>
<line x1="1108.78" y1="571.40" x2="1108.78" y2="579.40" stroke="#000" stroke-width="2.1" stroke-linecap="butt"/>
<line x1="1108.78" y1="813.50" x2="1108.78" y2="805.50" stroke="#000" stroke-width="2.1" stroke-linecap="butt"/>
<line x1="1120.92" y1="571.40" x2="1120.92" y2="579.40" stroke="#000" stroke-width="2.1" stroke-linecap="butt"/>
<line x1="1120.92" y1="813.50" x2="1120.92" y2="805.50" stroke="#000" stroke-width="2.1" stroke-linecap="butt"/>
<line x1="1133.06" y1="571.40" x2="1133.06" y2="579.40" stroke="#000" stroke-width="2.1" stroke-linecap="butt"/>
<line x1="1133.06" y1="813.50" x2="1133.06" y2="805.50" stroke="#000" stroke-width="2.1" stroke-linecap="butt"/>
<line x1="1145.20" y1="571.40" x2="1145.20" y2="586.10" stroke="#000" stroke-width="2.1" stroke-linecap="butt"/>
<line x1="1145.20" y1="813.50" x2="1145.20" y2="798.80" stroke="#000" stroke-width="2.1" stroke-linecap="butt"/>
<line x1="1157.34" y1="571.40" x2="1157.34" y2="579.40" stroke="#000" stroke-width="2.1" stroke-linecap="butt"/>
<line x1="1157.34" y1="813.50" x2="1157.34" y2="805.50" stroke="#000" stroke-width="2.1" stroke-linecap="butt"/>
<line x1="1169.48" y1="571.40" x2="1169.48" y2="579.40" stroke="#000" stroke-width="2.1" stroke-linecap="butt"/>
<line x1="1169.48" y1="813.50" x2="1169.48" y2="805.50" stroke="#000" stroke-width="2.1" stroke-linecap="butt"/>
<line x1="1181.62" y1="571.40" x2="1181.62" y2="579.40" stroke="#000" stroke-width="2.1" stroke-linecap="butt"/>
<line x1="1181.62" y1="813.50" x2="1181.62" y2="805.50" stroke="#000" stroke-width="2.1" stroke-linecap="butt"/>
<line x1="1193.76" y1="571.40" x2="1193.76" y2="579.40" stroke="#000" stroke-width="2.1" stroke-linecap="butt"/>
<line x1="1193.76" y1="813.50" x2="1193.76" y2="805.50" stroke="#000" stroke-width="2.1" stroke-linecap="butt"/>
<line x1="1205.90" y1="571.40" x2="1205.90" y2="586.10" stroke="#000" stroke-width="2.1" stroke-linecap="butt"/>
<line x1="1205.90" y1="813.50" x2="1205.90" y2="798.80" stroke="#000" stroke-width="2.1" stroke-linecap="butt"/>
<line x1="1218.04" y1="571.40" x2="1218.04" y2="579.40" stroke="#000" stroke-width="2.1" stroke-linecap="butt"/>
<line x1="1218.04" y1="813.50" x2="1218.04" y2="805.50" stroke="#000" stroke-width="2.1" stroke-linecap="butt"/>
<line x1="1230.18" y1="571.40" x2="1230.18" y2="579.40" stroke="#000" stroke-width="2.1" stroke-linecap="butt"/>
<line x1="1230.18" y1="813.50" x2="1230.18" y2="805.50" stroke="#000" stroke-width="2.1" stroke-linecap="butt"/>
<line x1="1242.32" y1="571.40" x2="1242.32" y2="579.40" stroke="#000" stroke-width="2.1" stroke-linecap="butt"/>
<line x1="1242.32" y1="813.50" x2="1242.32" y2="805.50" stroke="#000" stroke-width="2.1" stroke-linecap="butt"/>
<line x1="1254.46" y1="571.40" x2="1254.46" y2="579.40" stroke="#000" stroke-width="2.1" stroke-linecap="butt"/>
<line x1="1254.46" y1="813.50" x2="1254.46" y2="805.50" stroke="#000" stroke-width="2.1" stroke-linecap="butt"/>
<line x1="1266.60" y1="571.40" x2="1266.60" y2="586.10" stroke="#000" stroke-width="2.1" stroke-linecap="butt"/>
<line x1="1266.60" y1="813.50" x2="1266.60" y2="798.80" stroke="#000" stroke-width="2.1" stroke-linecap="butt"/>
<line x1="1278.74" y1="571.40" x2="1278.74" y2="579.40" stroke="#000" stroke-width="2.1" stroke-linecap="butt"/>
<line x1="1278.74" y1="813.50" x2="1278.74" y2="805.50" stroke="#000" stroke-width="2.1" stroke-linecap="butt"/>
<line x1="1290.88" y1="571.40" x2="1290.88" y2="579.40" stroke="#000" stroke-width="2.1" stroke-linecap="butt"/>
<line x1="1290.88" y1="813.50" x2="1290.88" y2="805.50" stroke="#000" stroke-width="2.1" stroke-linecap="butt"/>
<line x1="1303.02" y1="571.40" x2="1303.02" y2="579.40" stroke="#000" stroke-width="2.1" stroke-linecap="butt"/>
<line x1="1303.02" y1="813.50" x2="1303.02" y2="805.50" stroke="#000" stroke-width="2.1" stroke-linecap="butt"/>
<line x1="1315.16" y1="571.40" x2="1315.16" y2="579.40" stroke="#000" stroke-width="2.1" stroke-linecap="butt"/>
<line x1="1315.16" y1="813.50" x2="1315.16" y2="805.50" stroke="#000" stroke-width="2.1" stroke-linecap="butt"/>
<line x1="1327.30" y1="571.40" x2="1327.30" y2="586.10" stroke="#000" stroke-width="2.1" stroke-linecap="butt"/>
<line x1="1327.30" y1="813.50" x2="1327.30" y2="798.80" stroke="#000" stroke-width="2.1" stroke-linecap="butt"/>
<line x1="1339.44" y1="571.40" x2="1339.44" y2="579.40" stroke="#000" stroke-width="2.1" stroke-linecap="butt"/>
<line x1="1339.44" y1="813.50" x2="1339.44" y2="805.50" stroke="#000" stroke-width="2.1" stroke-linecap="butt"/>
<line x1="1351.58" y1="571.40" x2="1351.58" y2="579.40" stroke="#000" stroke-width="2.1" stroke-linecap="butt"/>
<line x1="1351.58" y1="813.50" x2="1351.58" y2="805.50" stroke="#000" stroke-width="2.1" stroke-linecap="butt"/>
<line x1="1363.72" y1="571.40" x2="1363.72" y2="579.40" stroke="#000" stroke-width="2.1" stroke-linecap="butt"/>
<line x1="1363.72" y1="813.50" x2="1363.72" y2="805.50" stroke="#000" stroke-width="2.1" stroke-linecap="butt"/>
<line x1="1375.86" y1="571.40" x2="1375.86" y2="579.40" stroke="#000" stroke-width="2.1" stroke-linecap="butt"/>
<line x1="1375.86" y1="813.50" x2="1375.86" y2="805.50" stroke="#000" stroke-width="2.1" stroke-linecap="butt"/>
<line x1="902.40" y1="808.60" x2="917.10" y2="808.60" stroke="#000" stroke-width="2.1" stroke-linecap="butt"/>
<line x1="1388.00" y1="808.60" x2="1373.30" y2="808.60" stroke="#000" stroke-width="2.1" stroke-linecap="butt"/>
<line x1="902.40" y1="749.25" x2="917.10" y2="749.25" stroke="#000" stroke-width="2.1" stroke-linecap="butt"/>
<line x1="1388.00" y1="749.25" x2="1373.30" y2="749.25" stroke="#000" stroke-width="2.1" stroke-linecap="butt"/>
<line x1="902.40" y1="689.90" x2="917.10" y2="689.90" stroke="#000" stroke-width="2.1" stroke-linecap="butt"/>
<line x1="1388.00" y1="689.90" x2="1373.30" y2="689.90" stroke="#000" stroke-width="2.1" stroke-linecap="butt"/>
<line x1="902.40" y1="630.55" x2="917.10" y2="630.55" stroke="#000" stroke-width="2.1" stroke-linecap="butt"/>
<line x1="1388.00" y1="630.55" x2="1373.30" y2="630.55" stroke="#000" stroke-width="2.1" stroke-linecap="butt"/>
<line x1="902.40" y1="796.73" x2="910.40" y2="796.73" stroke="#000" stroke-width="2.1" stroke-linecap="butt"/>
<line x1="1388.00" y1="796.73" x2="1380.00" y2="796.73" stroke="#000" stroke-width="2.1" stroke-linecap="butt"/>
<line x1="902.40" y1="784.86" x2="910.40" y2="784.86" stroke="#000" stroke-width="2.1" stroke-linecap="butt"/>
<line x1="1388.00" y1="784.86" x2="1380.00" y2="784.86" stroke="#000" stroke-width="2.1" stroke-linecap="butt"/>
<line x1="902.40" y1="772.99" x2="910.40" y2="772.99" stroke="#000" stroke-width="2.1" stroke-linecap="butt"/>
<line x1="1388.00" y1="772.99" x2="1380.00" y2="772.99" stroke="#000" stroke-width="2.1" stroke-linecap="butt"/>
<line x1="902.40" y1="761.12" x2="910.40" y2="761.12" stroke="#000" stroke-width="2.1" stroke-linecap="butt"/>
<line x1="1388.00" y1="761.12" x2="1380.00" y2="761.12" stroke="#000" stroke-width="2.1" stroke-linecap="butt"/>
<line x1="902.40" y1="737.38" x2="910.40" y2="737.38" stroke="#000" stroke-width="2.1" stroke-linecap="butt"/>
<line x1="1388.00" y1="737.38" x2="1380.00" y2="737.38" stroke="#000" stroke-width="2.1" stroke-linecap="butt"/>
<line x1="902.40" y1="725.51" x2="910.40" y2="725.51" stroke="#000" stroke-width="2.1" stroke-linecap="butt"/>
<line x1="1388.00" y1="725.51" x2="1380.00" y2="725.51" stroke="#000" stroke-width="2.1" stroke-linecap="butt"/>
<line x1="902.40" y1="713.64" x2="910.40" y2="713.64" stroke="#000" stroke-width="2.1" stroke-linecap="butt"/>
<line x1="1388.00" y1="713.64" x2="1380.00" y2="713.64" stroke="#000" stroke-width="2.1" stroke-linecap="butt"/>
<line x1="902.40" y1="701.77" x2="910.40" y2="701.77" stroke="#000" stroke-width="2.1" stroke-linecap="butt"/>
<line x1="1388.00" y1="701.77" x2="1380.00" y2="701.77" stroke="#000" stroke-width="2.1" stroke-linecap="butt"/>
<line x1="902.40" y1="678.03" x2="910.40" y2="678.03" stroke="#000" stroke-width="2.1" stroke-linecap="butt"/>
<line x1="1388.00" y1="678.03" x2="1380.00" y2="678.03" stroke="#000" stroke-width="2.1" stroke-linecap="butt"/>
<line x1="902.40" y1="666.16" x2="910.40" y2="666.16" stroke="#000" stroke-width="2.1" stroke-linecap="butt"/>
<line x1="1388.00" y1="666.16" x2="1380.00" y2="666.16" stroke="#000" stroke-width="2.1" stroke-linecap="butt"/>
<line x1="902.40" y1="654.29" x2="910.40" y2="654.29" stroke="#000" stroke-width="2.1" stroke-linecap="butt"/>
<line x1="1388.00" y1="654.29" x2="1380.00" y2="654.29" stroke="#000" stroke-width="2.1" stroke-linecap="butt"/>
<line x1="902.40" y1="642.42" x2="910.40" y2="642.42" stroke="#000" stroke-width="2.1" stroke-linecap="butt"/>
<line x1="1388.00" y1="642.42" x2="1380.00" y2="642.42" stroke="#000" stroke-width="2.1" stroke-linecap="butt"/>
<line x1="902.40" y1="618.68" x2="910.40" y2="618.68" stroke="#000" stroke-width="2.1" stroke-linecap="butt"/>
<line x1="1388.00" y1="618.68" x2="1380.00" y2="618.68" stroke="#000" stroke-width="2.1" stroke-linecap="butt"/>
<line x1="902.40" y1="606.81" x2="910.40" y2="606.81" stroke="#000" stroke-width="2.1" stroke-linecap="butt"/>
<line x1="1388.00" y1="606.81" x2="1380.00" y2="606.81" stroke="#000" stroke-width="2.1" stroke-linecap="butt"/>
<line x1="902.40" y1="594.94" x2="910.40" y2="594.94" stroke="#000" stroke-width="2.1" stroke-linecap="butt"/>
<line x1="1388.00" y1="594.94" x2="1380.00" y2="594.94" stroke="#000" stroke-width="2.1" stroke-linecap="butt"/>
<line x1="902.40" y1="583.07" x2="910.40" y2="583.07" stroke="#000" stroke-width="2.1" stroke-linecap="butt"/>
<line x1="1388.00" y1="583.07" x2="1380.00" y2="583.07" stroke="#000" stroke-width="2.1" stroke-linecap="butt"/>
<rect x="902.4" y="571.4" width="485.6" height="242.10000000000002" fill="none" stroke="#000" stroke-width="2.45"/>
<text transform="translate(893.60,824.30) scale(1,1.035)" font-size="45" stroke="#000" text-anchor="end">0</text>
<text transform="translate(893.60,704.10) scale(1,1.035)" font-size="45" stroke="#000" text-anchor="end">20</text>
<line x1="1603.43" y1="71.40" x2="1603.43" y2="79.40" stroke="#000" stroke-width="2.05" stroke-linecap="butt"/>
<line x1="1603.43" y1="315.10" x2="1603.43" y2="307.10" stroke="#000" stroke-width="2.05" stroke-linecap="butt"/>
<line x1="1615.56" y1="71.40" x2="1615.56" y2="79.40" stroke="#000" stroke-width="2.05" stroke-linecap="butt"/>
<line x1="1615.56" y1="315.10" x2="1615.56" y2="307.10" stroke="#000" stroke-width="2.05" stroke-linecap="butt"/>
<line x1="1627.69" y1="71.40" x2="1627.69" y2="79.40" stroke="#000" stroke-width="2.05" stroke-linecap="butt"/>
<line x1="1627.69" y1="315.10" x2="1627.69" y2="307.10" stroke="#000" stroke-width="2.05" stroke-linecap="butt"/>
<line x1="1639.82" y1="71.40" x2="1639.82" y2="79.40" stroke="#000" stroke-width="2.05" stroke-linecap="butt"/>
<line x1="1639.82" y1="315.10" x2="1639.82" y2="307.10" stroke="#000" stroke-width="2.05" stroke-linecap="butt"/>
<line x1="1651.95" y1="71.40" x2="1651.95" y2="86.10" stroke="#000" stroke-width="2.05" stroke-linecap="butt"/>
<line x1="1651.95" y1="315.10" x2="1651.95" y2="300.40" stroke="#000" stroke-width="2.05" stroke-linecap="butt"/>
<line x1="1664.08" y1="71.40" x2="1664.08" y2="79.40" stroke="#000" stroke-width="2.05" stroke-linecap="butt"/>
<line x1="1664.08" y1="315.10" x2="1664.08" y2="307.10" stroke="#000" stroke-width="2.05" stroke-linecap="butt"/>
<line x1="1676.21" y1="71.40" x2="1676.21" y2="79.40" stroke="#000" stroke-width="2.05" stroke-linecap="butt"/>
<line x1="1676.21" y1="315.10" x2="1676.21" y2="307.10" stroke="#000" stroke-width="2.05" stroke-linecap="butt"/>
<line x1="1688.34" y1="71.40" x2="1688.34" y2="79.40" stroke="#000" stroke-width="2.05" stroke-linecap="butt"/>
<line x1="1688.34" y1="315.10" x2="1688.34" y2="307.10" stroke="#000" stroke-width="2.05" stroke-linecap="butt"/>
<line x1="1700.47" y1="71.40" x2="1700.47" y2="79.40" stroke="#000" stroke-width="2.05" stroke-linecap="butt"/>
<line x1="1700.47" y1="315.10" x2="1700.47" y2="307.10" stroke="#000" stroke-width="2.05" stroke-linecap="butt"/>
<line x1="1712.60" y1="71.40" x2="1712.60" y2="86.10" stroke="#000" stroke-width="2.05" stroke-linecap="butt"/>
<line x1="1712.60" y1="315.10" x2="1712.60" y2="300.40" stroke="#000" stroke-width="2.05" stroke-linecap="butt"/>
<line x1="1724.73" y1="71.40" x2="1724.73" y2="79.40" stroke="#000" stroke-width="2.05" stroke-linecap="butt"/>
<line x1="1724.73" y1="315.10" x2="1724.73" y2="307.10" stroke="#000" stroke-width="2.05" stroke-linecap="butt"/>
<line x1="1736.86" y1="71.40" x2="1736.86" y2="79.40" stroke="#000" stroke-width="2.05" stroke-linecap="butt"/>
<line x1="1736.86" y1="315.10" x2="1736.86" y2="307.10" stroke="#000" stroke-width="2.05" stroke-linecap="butt"/>
<line x1="1748.99" y1="71.40" x2="1748.99" y2="79.40" stroke="#000" stroke-width="2.05" stroke-linecap="butt"/>
<line x1="1748.99" y1="315.10" x2="1748.99" y2="307.10" stroke="#000" stroke-width="2.05" stroke-linecap="butt"/>
<line x1="1761.12" y1="71.40" x2="1761.12" y2="79.40" stroke="#000" stroke-width="2.05" stroke-linecap="butt"/>
<line x1="1761.12" y1="315.10" x2="1761.12" y2="307.10" stroke="#000" stroke-width="2.05" stroke-linecap="butt"/>
<line x1="1773.25" y1="71.40" x2="1773.25" y2="86.10" stroke="#000" stroke-width="2.05" stroke-linecap="butt"/>
<line x1="1773.25" y1="315.10" x2="1773.25" y2="300.40" stroke="#000" stroke-width="2.05" stroke-linecap="butt"/>
<line x1="1785.38" y1="71.40" x2="1785.38" y2="79.40" stroke="#000" stroke-width="2.05" stroke-linecap="butt"/>
<line x1="1785.38" y1="315.10" x2="1785.38" y2="307.10" stroke="#000" stroke-width="2.05" stroke-linecap="butt"/>
<line x1="1797.51" y1="71.40" x2="1797.51" y2="79.40" stroke="#000" stroke-width="2.05" stroke-linecap="butt"/>
<line x1="1797.51" y1="315.10" x2="1797.51" y2="307.10" stroke="#000" stroke-width="2.05" stroke-linecap="butt"/>
<line x1="1809.64" y1="71.40" x2="1809.64" y2="79.40" stroke="#000" stroke-width="2.05" stroke-linecap="butt"/>
<line x1="1809.64" y1="315.10" x2="1809.64" y2="307.10" stroke="#000" stroke-width="2.05" stroke-linecap="butt"/>
<line x1="1821.77" y1="71.40" x2="1821.77" y2="79.40" stroke="#000" stroke-width="2.05" stroke-linecap="butt"/>
<line x1="1821.77" y1="315.10" x2="1821.77" y2="307.10" stroke="#000" stroke-width="2.05" stroke-linecap="butt"/>
<line x1="1833.90" y1="71.40" x2="1833.90" y2="86.10" stroke="#000" stroke-width="2.05" stroke-linecap="butt"/>
<line x1="1833.90" y1="315.10" x2="1833.90" y2="300.40" stroke="#000" stroke-width="2.05" stroke-linecap="butt"/>
<line x1="1846.03" y1="71.40" x2="1846.03" y2="79.40" stroke="#000" stroke-width="2.05" stroke-linecap="butt"/>
<line x1="1846.03" y1="315.10" x2="1846.03" y2="307.10" stroke="#000" stroke-width="2.05" stroke-linecap="butt"/>
<line x1="1858.16" y1="71.40" x2="1858.16" y2="79.40" stroke="#000" stroke-width="2.05" stroke-linecap="butt"/>
<line x1="1858.16" y1="315.10" x2="1858.16" y2="307.10" stroke="#000" stroke-width="2.05" stroke-linecap="butt"/>
<line x1="1870.29" y1="71.40" x2="1870.29" y2="79.40" stroke="#000" stroke-width="2.05" stroke-linecap="butt"/>
<line x1="1870.29" y1="315.10" x2="1870.29" y2="307.10" stroke="#000" stroke-width="2.05" stroke-linecap="butt"/>
<line x1="1882.42" y1="71.40" x2="1882.42" y2="79.40" stroke="#000" stroke-width="2.05" stroke-linecap="butt"/>
<line x1="1882.42" y1="315.10" x2="1882.42" y2="307.10" stroke="#000" stroke-width="2.05" stroke-linecap="butt"/>
<line x1="1894.55" y1="71.40" x2="1894.55" y2="86.10" stroke="#000" stroke-width="2.05" stroke-linecap="butt"/>
<line x1="1894.55" y1="315.10" x2="1894.55" y2="300.40" stroke="#000" stroke-width="2.05" stroke-linecap="butt"/>
<line x1="1906.68" y1="71.40" x2="1906.68" y2="79.40" stroke="#000" stroke-width="2.05" stroke-linecap="butt"/>
<line x1="1906.68" y1="315.10" x2="1906.68" y2="307.10" stroke="#000" stroke-width="2.05" stroke-linecap="butt"/>
<line x1="1918.81" y1="71.40" x2="1918.81" y2="79.40" stroke="#000" stroke-width="2.05" stroke-linecap="butt"/>
<line x1="1918.81" y1="315.10" x2="1918.81" y2="307.10" stroke="#000" stroke-width="2.05" stroke-linecap="butt"/>
<line x1="1930.94" y1="71.40" x2="1930.94" y2="79.40" stroke="#000" stroke-width="2.05" stroke-linecap="butt"/>
<line x1="1930.94" y1="315.10" x2="1930.94" y2="307.10" stroke="#000" stroke-width="2.05" stroke-linecap="butt"/>
<line x1="1943.07" y1="71.40" x2="1943.07" y2="79.40" stroke="#000" stroke-width="2.05" stroke-linecap="butt"/>
<line x1="1943.07" y1="315.10" x2="1943.07" y2="307.10" stroke="#000" stroke-width="2.05" stroke-linecap="butt"/>
<line x1="1955.20" y1="71.40" x2="1955.20" y2="86.10" stroke="#000" stroke-width="2.05" stroke-linecap="butt"/>
<line x1="1955.20" y1="315.10" x2="1955.20" y2="300.40" stroke="#000" stroke-width="2.05" stroke-linecap="butt"/>
<line x1="1967.33" y1="71.40" x2="1967.33" y2="79.40" stroke="#000" stroke-width="2.05" stroke-linecap="butt"/>
<line x1="1967.33" y1="315.10" x2="1967.33" y2="307.10" stroke="#000" stroke-width="2.05" stroke-linecap="butt"/>
<line x1="1979.46" y1="71.40" x2="1979.46" y2="79.40" stroke="#000" stroke-width="2.05" stroke-linecap="butt"/>
<line x1="1979.46" y1="315.10" x2="1979.46" y2="307.10" stroke="#000" stroke-width="2.05" stroke-linecap="butt"/>
<line x1="1991.59" y1="71.40" x2="1991.59" y2="79.40" stroke="#000" stroke-width="2.05" stroke-linecap="butt"/>
<line x1="1991.59" y1="315.10" x2="1991.59" y2="307.10" stroke="#000" stroke-width="2.05" stroke-linecap="butt"/>
<line x1="2003.72" y1="71.40" x2="2003.72" y2="79.40" stroke="#000" stroke-width="2.05" stroke-linecap="butt"/>
<line x1="2003.72" y1="315.10" x2="2003.72" y2="307.10" stroke="#000" stroke-width="2.05" stroke-linecap="butt"/>
<line x1="2015.85" y1="71.40" x2="2015.85" y2="86.10" stroke="#000" stroke-width="2.05" stroke-linecap="butt"/>
<line x1="2015.85" y1="315.10" x2="2015.85" y2="300.40" stroke="#000" stroke-width="2.05" stroke-linecap="butt"/>
<line x1="2027.98" y1="71.40" x2="2027.98" y2="79.40" stroke="#000" stroke-width="2.05" stroke-linecap="butt"/>
<line x1="2027.98" y1="315.10" x2="2027.98" y2="307.10" stroke="#000" stroke-width="2.05" stroke-linecap="butt"/>
<line x1="2040.11" y1="71.40" x2="2040.11" y2="79.40" stroke="#000" stroke-width="2.05" stroke-linecap="butt"/>
<line x1="2040.11" y1="315.10" x2="2040.11" y2="307.10" stroke="#000" stroke-width="2.05" stroke-linecap="butt"/>
<line x1="2052.24" y1="71.40" x2="2052.24" y2="79.40" stroke="#000" stroke-width="2.05" stroke-linecap="butt"/>
<line x1="2052.24" y1="315.10" x2="2052.24" y2="307.10" stroke="#000" stroke-width="2.05" stroke-linecap="butt"/>
<line x1="2064.37" y1="71.40" x2="2064.37" y2="79.40" stroke="#000" stroke-width="2.05" stroke-linecap="butt"/>
<line x1="2064.37" y1="315.10" x2="2064.37" y2="307.10" stroke="#000" stroke-width="2.05" stroke-linecap="butt"/>
<line x1="1591.30" y1="112.25" x2="1606.00" y2="112.25" stroke="#000" stroke-width="2.05" stroke-linecap="butt"/>
<line x1="2076.50" y1="112.25" x2="2061.80" y2="112.25" stroke="#000" stroke-width="2.05" stroke-linecap="butt"/>
<line x1="1591.30" y1="179.95" x2="1606.00" y2="179.95" stroke="#000" stroke-width="2.05" stroke-linecap="butt"/>
<line x1="2076.50" y1="179.95" x2="2061.80" y2="179.95" stroke="#000" stroke-width="2.05" stroke-linecap="butt"/>
<line x1="1591.30" y1="247.65" x2="1606.00" y2="247.65" stroke="#000" stroke-width="2.05" stroke-linecap="butt"/>
<line x1="2076.50" y1="247.65" x2="2061.80" y2="247.65" stroke="#000" stroke-width="2.05" stroke-linecap="butt"/>
<line x1="1591.30" y1="294.97" x2="1599.30" y2="294.97" stroke="#000" stroke-width="2.05" stroke-linecap="butt"/>
<line x1="2076.50" y1="294.97" x2="2068.50" y2="294.97" stroke="#000" stroke-width="2.05" stroke-linecap="butt"/>
<line x1="1591.30" y1="283.05" x2="1599.30" y2="283.05" stroke="#000" stroke-width="2.05" stroke-linecap="butt"/>
<line x1="2076.50" y1="283.05" x2="2068.50" y2="283.05" stroke="#000" stroke-width="2.05" stroke-linecap="butt"/>
<line x1="1591.30" y1="274.59" x2="1599.30" y2="274.59" stroke="#000" stroke-width="2.05" stroke-linecap="butt"/>
<line x1="2076.50" y1="274.59" x2="2068.50" y2="274.59" stroke="#000" stroke-width="2.05" stroke-linecap="butt"/>
<line x1="1591.30" y1="268.03" x2="1599.30" y2="268.03" stroke="#000" stroke-width="2.05" stroke-linecap="butt"/>
<line x1="2076.50" y1="268.03" x2="2068.50" y2="268.03" stroke="#000" stroke-width="2.05" stroke-linecap="butt"/>
<line x1="1591.30" y1="262.67" x2="1599.30" y2="262.67" stroke="#000" stroke-width="2.05" stroke-linecap="butt"/>
<line x1="2076.50" y1="262.67" x2="2068.50" y2="262.67" stroke="#000" stroke-width="2.05" stroke-linecap="butt"/>
<line x1="1591.30" y1="258.14" x2="1599.30" y2="258.14" stroke="#000" stroke-width="2.05" stroke-linecap="butt"/>
<line x1="2076.50" y1="258.14" x2="2068.50" y2="258.14" stroke="#000" stroke-width="2.05" stroke-linecap="butt"/>
<line x1="1591.30" y1="254.21" x2="1599.30" y2="254.21" stroke="#000" stroke-width="2.05" stroke-linecap="butt"/>
<line x1="2076.50" y1="254.21" x2="2068.50" y2="254.21" stroke="#000" stroke-width="2.05" stroke-linecap="butt"/>
<line x1="1591.30" y1="250.75" x2="1599.30" y2="250.75" stroke="#000" stroke-width="2.05" stroke-linecap="butt"/>
<line x1="2076.50" y1="250.75" x2="2068.50" y2="250.75" stroke="#000" stroke-width="2.05" stroke-linecap="butt"/>
<line x1="1591.30" y1="227.27" x2="1599.30" y2="227.27" stroke="#000" stroke-width="2.05" stroke-linecap="butt"/>
<line x1="2076.50" y1="227.27" x2="2068.50" y2="227.27" stroke="#000" stroke-width="2.05" stroke-linecap="butt"/>
<line x1="1591.30" y1="215.35" x2="1599.30" y2="215.35" stroke="#000" stroke-width="2.05" stroke-linecap="butt"/>
<line x1="2076.50" y1="215.35" x2="2068.50" y2="215.35" stroke="#000" stroke-width="2.05" stroke-linecap="butt"/>
<line x1="1591.30" y1="206.89" x2="1599.30" y2="206.89" stroke="#000" stroke-width="2.05" stroke-linecap="butt"/>
<line x1="2076.50" y1="206.89" x2="2068.50" y2="206.89" stroke="#000" stroke-width="2.05" stroke-linecap="butt"/>
<line x1="1591.30" y1="200.33" x2="1599.30" y2="200.33" stroke="#000" stroke-width="2.05" stroke-linecap="butt"/>
<line x1="2076.50" y1="200.33" x2="2068.50" y2="200.33" stroke="#000" stroke-width="2.05" stroke-linecap="butt"/>
<line x1="1591.30" y1="194.97" x2="1599.30" y2="194.97" stroke="#000" stroke-width="2.05" stroke-linecap="butt"/>
<line x1="2076.50" y1="194.97" x2="2068.50" y2="194.97" stroke="#000" stroke-width="2.05" stroke-linecap="butt"/>
<line x1="1591.30" y1="190.44" x2="1599.30" y2="190.44" stroke="#000" stroke-width="2.05" stroke-linecap="butt"/>
<line x1="2076.50" y1="190.44" x2="2068.50" y2="190.44" stroke="#000" stroke-width="2.05" stroke-linecap="butt"/>
<line x1="1591.30" y1="186.51" x2="1599.30" y2="186.51" stroke="#000" stroke-width="2.05" stroke-linecap="butt"/>
<line x1="2076.50" y1="186.51" x2="2068.50" y2="186.51" stroke="#000" stroke-width="2.05" stroke-linecap="butt"/>
<line x1="1591.30" y1="183.05" x2="1599.30" y2="183.05" stroke="#000" stroke-width="2.05" stroke-linecap="butt"/>
<line x1="2076.50" y1="183.05" x2="2068.50" y2="183.05" stroke="#000" stroke-width="2.05" stroke-linecap="butt"/>
<line x1="1591.30" y1="159.57" x2="1599.30" y2="159.57" stroke="#000" stroke-width="2.05" stroke-linecap="butt"/>
<line x1="2076.50" y1="159.57" x2="2068.50" y2="159.57" stroke="#000" stroke-width="2.05" stroke-linecap="butt"/>
<line x1="1591.30" y1="147.65" x2="1599.30" y2="147.65" stroke="#000" stroke-width="2.05" stroke-linecap="butt"/>
<line x1="2076.50" y1="147.65" x2="2068.50" y2="147.65" stroke="#000" stroke-width="2.05" stroke-linecap="butt"/>
<line x1="1591.30" y1="139.19" x2="1599.30" y2="139.19" stroke="#000" stroke-width="2.05" stroke-linecap="butt"/>
<line x1="2076.50" y1="139.19" x2="2068.50" y2="139.19" stroke="#000" stroke-width="2.05" stroke-linecap="butt"/>
<line x1="1591.30" y1="132.63" x2="1599.30" y2="132.63" stroke="#000" stroke-width="2.05" stroke-linecap="butt"/>
<line x1="2076.50" y1="132.63" x2="2068.50" y2="132.63" stroke="#000" stroke-width="2.05" stroke-linecap="butt"/>
<line x1="1591.30" y1="127.27" x2="1599.30" y2="127.27" stroke="#000" stroke-width="2.05" stroke-linecap="butt"/>
<line x1="2076.50" y1="127.27" x2="2068.50" y2="127.27" stroke="#000" stroke-width="2.05" stroke-linecap="butt"/>
<line x1="1591.30" y1="122.74" x2="1599.30" y2="122.74" stroke="#000" stroke-width="2.05" stroke-linecap="butt"/>
<line x1="2076.50" y1="122.74" x2="2068.50" y2="122.74" stroke="#000" stroke-width="2.05" stroke-linecap="butt"/>
<line x1="1591.30" y1="118.81" x2="1599.30" y2="118.81" stroke="#000" stroke-width="2.05" stroke-linecap="butt"/>
<line x1="2076.50" y1="118.81" x2="2068.50" y2="118.81" stroke="#000" stroke-width="2.05" stroke-linecap="butt"/>
<line x1="1591.30" y1="115.35" x2="1599.30" y2="115.35" stroke="#000" stroke-width="2.05" stroke-linecap="butt"/>
<line x1="2076.50" y1="115.35" x2="2068.50" y2="115.35" stroke="#000" stroke-width="2.05" stroke-linecap="butt"/>
<line x1="1591.30" y1="91.87" x2="1599.30" y2="91.87" stroke="#000" stroke-width="2.05" stroke-linecap="butt"/>
<line x1="2076.50" y1="91.87" x2="2068.50" y2="91.87" stroke="#000" stroke-width="2.05" stroke-linecap="butt"/>
<line x1="1591.30" y1="79.95" x2="1599.30" y2="79.95" stroke="#000" stroke-width="2.05" stroke-linecap="butt"/>
<line x1="2076.50" y1="79.95" x2="2068.50" y2="79.95" stroke="#000" stroke-width="2.05" stroke-linecap="butt"/>
<rect x="1591.3" y="71.4" width="485.20000000000005" height="243.70000000000002" fill="none" stroke="#000" stroke-width="2.4"/>
<clipPath id="fc1"><path clip-rule="evenodd" d="M1492.30 77.85H1588.30V141.85H1492.30ZM1534.17 122.77H1543.41V129.35H1534.17ZM1547.68 122.77H1556.57V129.35H1547.68Z"/></clipPath>
<g clip-path="url(#fc1)"><text transform="translate(1582.30,127.85) scale(1,1.035)" font-size="45" stroke="#000" text-anchor="end">10</text></g>
<clipPath id="fc2"><path clip-rule="evenodd" d="M1492.30 145.55H1588.30V209.55H1492.30ZM1559.20 190.47H1568.44V197.05H1559.20ZM1572.71 190.47H1581.60V197.05H1572.71Z"/></clipPath>
<g clip-path="url(#fc2)"><text transform="translate(1582.30,195.55) scale(1,1.035)" font-size="45" stroke="#000" text-anchor="end">1</text></g>
<clipPath id="fc3"><path clip-rule="evenodd" d="M1492.30 213.25H1588.30V277.25H1492.30ZM1559.20 258.17H1568.44V264.75H1559.20ZM1572.71 258.17H1581.60V264.75H1572.71Z"/></clipPath>
<g clip-path="url(#fc3)"><text transform="translate(1582.30,263.25) scale(1,1.035)" font-size="45" stroke="#000" text-anchor="end">0.1</text></g>
<line x1="1603.63" y1="320.50" x2="1603.63" y2="328.50" stroke="#000" stroke-width="2.05" stroke-linecap="butt"/>
<line x1="1603.63" y1="562.70" x2="1603.63" y2="554.70" stroke="#000" stroke-width="2.05" stroke-linecap="butt"/>
<line x1="1615.76" y1="320.50" x2="1615.76" y2="328.50" stroke="#000" stroke-width="2.05" stroke-linecap="butt"/>
<line x1="1615.76" y1="562.70" x2="1615.76" y2="554.70" stroke="#000" stroke-width="2.05" stroke-linecap="butt"/>
<line x1="1627.88" y1="320.50" x2="1627.88" y2="328.50" stroke="#000" stroke-width="2.05" stroke-linecap="butt"/>
<line x1="1627.88" y1="562.70" x2="1627.88" y2="554.70" stroke="#000" stroke-width="2.05" stroke-linecap="butt"/>
<line x1="1640.01" y1="320.50" x2="1640.01" y2="328.50" stroke="#000" stroke-width="2.05" stroke-linecap="butt"/>
<line x1="1640.01" y1="562.70" x2="1640.01" y2="554.70" stroke="#000" stroke-width="2.05" stroke-linecap="butt"/>
<line x1="1652.14" y1="320.50" x2="1652.14" y2="335.20" stroke="#000" stroke-width="2.05" stroke-linecap="butt"/>
<line x1="1652.14" y1="562.70" x2="1652.14" y2="548.00" stroke="#000" stroke-width="2.05" stroke-linecap="butt"/>
<line x1="1664.26" y1="320.50" x2="1664.26" y2="328.50" stroke="#000" stroke-width="2.05" stroke-linecap="butt"/>
<line x1="1664.26" y1="562.70" x2="1664.26" y2="554.70" stroke="#000" stroke-width="2.05" stroke-linecap="butt"/>
<line x1="1676.39" y1="320.50" x2="1676.39" y2="328.50" stroke="#000" stroke-width="2.05" stroke-linecap="butt"/>
<line x1="1676.39" y1="562.70" x2="1676.39" y2="554.70" stroke="#000" stroke-width="2.05" stroke-linecap="butt"/>
<line x1="1688.52" y1="320.50" x2="1688.52" y2="328.50" stroke="#000" stroke-width="2.05" stroke-linecap="butt"/>
<line x1="1688.52" y1="562.70" x2="1688.52" y2="554.70" stroke="#000" stroke-width="2.05" stroke-linecap="butt"/>
<line x1="1700.65" y1="320.50" x2="1700.65" y2="328.50" stroke="#000" stroke-width="2.05" stroke-linecap="butt"/>
<line x1="1700.65" y1="562.70" x2="1700.65" y2="554.70" stroke="#000" stroke-width="2.05" stroke-linecap="butt"/>
<line x1="1712.78" y1="320.50" x2="1712.78" y2="335.20" stroke="#000" stroke-width="2.05" stroke-linecap="butt"/>
<line x1="1712.78" y1="562.70" x2="1712.78" y2="548.00" stroke="#000" stroke-width="2.05" stroke-linecap="butt"/>
<line x1="1724.90" y1="320.50" x2="1724.90" y2="328.50" stroke="#000" stroke-width="2.05" stroke-linecap="butt"/>
<line x1="1724.90" y1="562.70" x2="1724.90" y2="554.70" stroke="#000" stroke-width="2.05" stroke-linecap="butt"/>
<line x1="1737.03" y1="320.50" x2="1737.03" y2="328.50" stroke="#000" stroke-width="2.05" stroke-linecap="butt"/>
<line x1="1737.03" y1="562.70" x2="1737.03" y2="554.70" stroke="#000" stroke-width="2.05" stroke-linecap="butt"/>
<line x1="1749.16" y1="320.50" x2="1749.16" y2="328.50" stroke="#000" stroke-width="2.05" stroke-linecap="butt"/>
<line x1="1749.16" y1="562.70" x2="1749.16" y2="554.70" stroke="#000" stroke-width="2.05" stroke-linecap="butt"/>
<line x1="1761.28" y1="320.50" x2="1761.28" y2="328.50" stroke="#000" stroke-width="2.05" stroke-linecap="butt"/>
<line x1="1761.28" y1="562.70" x2="1761.28" y2="554.70" stroke="#000" stroke-width="2.05" stroke-linecap="butt"/>
<line x1="1773.41" y1="320.50" x2="1773.41" y2="335.20" stroke="#000" stroke-width="2.05" stroke-linecap="butt"/>
<line x1="1773.41" y1="562.70" x2="1773.41" y2="548.00" stroke="#000" stroke-width="2.05" stroke-linecap="butt"/>
<line x1="1785.54" y1="320.50" x2="1785.54" y2="328.50" stroke="#000" stroke-width="2.05" stroke-linecap="butt"/>
<line x1="1785.54" y1="562.70" x2="1785.54" y2="554.70" stroke="#000" stroke-width="2.05" stroke-linecap="butt"/>
<line x1="1797.67" y1="320.50" x2="1797.67" y2="328.50" stroke="#000" stroke-width="2.05" stroke-linecap="butt"/>
<line x1="1797.67" y1="562.70" x2="1797.67" y2="554.70" stroke="#000" stroke-width="2.05" stroke-linecap="butt"/>
<line x1="1809.80" y1="320.50" x2="1809.80" y2="328.50" stroke="#000" stroke-width="2.05" stroke-linecap="butt"/>
<line x1="1809.80" y1="562.70" x2="1809.80" y2="554.70" stroke="#000" stroke-width="2.05" stroke-linecap="butt"/>
<line x1="1821.92" y1="320.50" x2="1821.92" y2="328.50" stroke="#000" stroke-width="2.05" stroke-linecap="butt"/>
<line x1="1821.92" y1="562.70" x2="1821.92" y2="554.70" stroke="#000" stroke-width="2.05" stroke-linecap="butt"/>
<line x1="1834.05" y1="320.50" x2="1834.05" y2="335.20" stroke="#000" stroke-width="2.05" stroke-linecap="butt"/>
<line x1="1834.05" y1="562.70" x2="1834.05" y2="548.00" stroke="#000" stroke-width="2.05" stroke-linecap="butt"/>
<line x1="1846.18" y1="320.50" x2="1846.18" y2="328.50" stroke="#000" stroke-width="2.05" stroke-linecap="butt"/>
<line x1="1846.18" y1="562.70" x2="1846.18" y2="554.70" stroke="#000" stroke-width="2.05" stroke-linecap="butt"/>
<line x1="1858.30" y1="320.50" x2="1858.30" y2="328.50" stroke="#000" stroke-width="2.05" stroke-linecap="butt"/>
<line x1="1858.30" y1="562.70" x2="1858.30" y2="554.70" stroke="#000" stroke-width="2.05" stroke-linecap="butt"/>
<line x1="1870.43" y1="320.50" x2="1870.43" y2="328.50" stroke="#000" stroke-width="2.05" stroke-linecap="butt"/>
<line x1="1870.43" y1="562.70" x2="1870.43" y2="554.70" stroke="#000" stroke-width="2.05" stroke-linecap="butt"/>
<line x1="1882.56" y1="320.50" x2="1882.56" y2="328.50" stroke="#000" stroke-width="2.05" stroke-linecap="butt"/>
<line x1="1882.56" y1="562.70" x2="1882.56" y2="554.70" stroke="#000" stroke-width="2.05" stroke-linecap="butt"/>
<line x1="1894.69" y1="320.50" x2="1894.69" y2="335.20" stroke="#000" stroke-width="2.05" stroke-linecap="butt"/>
<line x1="1894.69" y1="562.70" x2="1894.69" y2="548.00" stroke="#000" stroke-width="2.05" stroke-linecap="butt"/>
<line x1="1906.82" y1="320.50" x2="1906.82" y2="328.50" stroke="#000" stroke-width="2.05" stroke-linecap="butt"/>
<line x1="1906.82" y1="562.70" x2="1906.82" y2="554.70" stroke="#000" stroke-width="2.05" stroke-linecap="butt"/>
<line x1="1918.94" y1="320.50" x2="1918.94" y2="328.50" stroke="#000" stroke-width="2.05" stroke-linecap="butt"/>
<line x1="1918.94" y1="562.70" x2="1918.94" y2="554.70" stroke="#000" stroke-width="2.05" stroke-linecap="butt"/>
<line x1="1931.07" y1="320.50" x2="1931.07" y2="328.50" stroke="#000" stroke-width="2.05" stroke-linecap="butt"/>
<line x1="1931.07" y1="562.70" x2="1931.07" y2="554.70" stroke="#000" stroke-width="2.05" stroke-linecap="butt"/>
<line x1="1943.20" y1="320.50" x2="1943.20" y2="328.50" stroke="#000" stroke-width="2.05" stroke-linecap="butt"/>
<line x1="1943.20" y1="562.70" x2="1943.20" y2="554.70" stroke="#000" stroke-width="2.05" stroke-linecap="butt"/>
<line x1="1955.32" y1="320.50" x2="1955.32" y2="335.20" stroke="#000" stroke-width="2.05" stroke-linecap="butt"/>
<line x1="1955.32" y1="562.70" x2="1955.32" y2="548.00" stroke="#000" stroke-width="2.05" stroke-linecap="butt"/>
<line x1="1967.45" y1="320.50" x2="1967.45" y2="328.50" stroke="#000" stroke-width="2.05" stroke-linecap="butt"/>
<line x1="1967.45" y1="562.70" x2="1967.45" y2="554.70" stroke="#000" stroke-width="2.05" stroke-linecap="butt"/>
<line x1="1979.58" y1="320.50" x2="1979.58" y2="328.50" stroke="#000" stroke-width="2.05" stroke-linecap="butt"/>
<line x1="1979.58" y1="562.70" x2="1979.58" y2="554.70" stroke="#000" stroke-width="2.05" stroke-linecap="butt"/>
<line x1="1991.71" y1="320.50" x2="1991.71" y2="328.50" stroke="#000" stroke-width="2.05" stroke-linecap="butt"/>
<line x1="1991.71" y1="562.70" x2="1991.71" y2="554.70" stroke="#000" stroke-width="2.05" stroke-linecap="butt"/>
<line x1="2003.84" y1="320.50" x2="2003.84" y2="328.50" stroke="#000" stroke-width="2.05" stroke-linecap="butt"/>
<line x1="2003.84" y1="562.70" x2="2003.84" y2="554.70" stroke="#000" stroke-width="2.05" stroke-linecap="butt"/>
<line x1="2015.96" y1="320.50" x2="2015.96" y2="335.20" stroke="#000" stroke-width="2.05" stroke-linecap="butt"/>
<line x1="2015.96" y1="562.70" x2="2015.96" y2="548.00" stroke="#000" stroke-width="2.05" stroke-linecap="butt"/>
<line x1="2028.09" y1="320.50" x2="2028.09" y2="328.50" stroke="#000" stroke-width="2.05" stroke-linecap="butt"/>
<line x1="2028.09" y1="562.70" x2="2028.09" y2="554.70" stroke="#000" stroke-width="2.05" stroke-linecap="butt"/>
<line x1="2040.22" y1="320.50" x2="2040.22" y2="328.50" stroke="#000" stroke-width="2.05" stroke-linecap="butt"/>
<line x1="2040.22" y1="562.70" x2="2040.22" y2="554.70" stroke="#000" stroke-width="2.05" stroke-linecap="butt"/>
<line x1="2052.34" y1="320.50" x2="2052.34" y2="328.50" stroke="#000" stroke-width="2.05" stroke-linecap="butt"/>
<line x1="2052.34" y1="562.70" x2="2052.34" y2="554.70" stroke="#000" stroke-width="2.05" stroke-linecap="butt"/>
<line x1="2064.47" y1="320.50" x2="2064.47" y2="328.50" stroke="#000" stroke-width="2.05" stroke-linecap="butt"/>
<line x1="2064.47" y1="562.70" x2="2064.47" y2="554.70" stroke="#000" stroke-width="2.05" stroke-linecap="butt"/>
<line x1="1591.50" y1="360.60" x2="1606.20" y2="360.60" stroke="#000" stroke-width="2.05" stroke-linecap="butt"/>
<line x1="2076.60" y1="360.60" x2="2061.90" y2="360.60" stroke="#000" stroke-width="2.05" stroke-linecap="butt"/>
<line x1="1591.50" y1="428.50" x2="1606.20" y2="428.50" stroke="#000" stroke-width="2.05" stroke-linecap="butt"/>
<line x1="2076.60" y1="428.50" x2="2061.90" y2="428.50" stroke="#000" stroke-width="2.05" stroke-linecap="butt"/>
<line x1="1591.50" y1="496.40" x2="1606.20" y2="496.40" stroke="#000" stroke-width="2.05" stroke-linecap="butt"/>
<line x1="2076.60" y1="496.40" x2="2061.90" y2="496.40" stroke="#000" stroke-width="2.05" stroke-linecap="butt"/>
<line x1="1591.50" y1="543.86" x2="1599.50" y2="543.86" stroke="#000" stroke-width="2.05" stroke-linecap="butt"/>
<line x1="2076.60" y1="543.86" x2="2068.60" y2="543.86" stroke="#000" stroke-width="2.05" stroke-linecap="butt"/>
<line x1="1591.50" y1="531.90" x2="1599.50" y2="531.90" stroke="#000" stroke-width="2.05" stroke-linecap="butt"/>
<line x1="2076.60" y1="531.90" x2="2068.60" y2="531.90" stroke="#000" stroke-width="2.05" stroke-linecap="butt"/>
<line x1="1591.50" y1="523.42" x2="1599.50" y2="523.42" stroke="#000" stroke-width="2.05" stroke-linecap="butt"/>
<line x1="2076.60" y1="523.42" x2="2068.60" y2="523.42" stroke="#000" stroke-width="2.05" stroke-linecap="butt"/>
<line x1="1591.50" y1="516.84" x2="1599.50" y2="516.84" stroke="#000" stroke-width="2.05" stroke-linecap="butt"/>
<line x1="2076.60" y1="516.84" x2="2068.60" y2="516.84" stroke="#000" stroke-width="2.05" stroke-linecap="butt"/>
<line x1="1591.50" y1="511.46" x2="1599.50" y2="511.46" stroke="#000" stroke-width="2.05" stroke-linecap="butt"/>
<line x1="2076.60" y1="511.46" x2="2068.60" y2="511.46" stroke="#000" stroke-width="2.05" stroke-linecap="butt"/>
<line x1="1591.50" y1="506.92" x2="1599.50" y2="506.92" stroke="#000" stroke-width="2.05" stroke-linecap="butt"/>
<line x1="2076.60" y1="506.92" x2="2068.60" y2="506.92" stroke="#000" stroke-width="2.05" stroke-linecap="butt"/>
<line x1="1591.50" y1="502.98" x2="1599.50" y2="502.98" stroke="#000" stroke-width="2.05" stroke-linecap="butt"/>
<line x1="2076.60" y1="502.98" x2="2068.60" y2="502.98" stroke="#000" stroke-width="2.05" stroke-linecap="butt"/>
<line x1="1591.50" y1="499.51" x2="1599.50" y2="499.51" stroke="#000" stroke-width="2.05" stroke-linecap="butt"/>
<line x1="2076.60" y1="499.51" x2="2068.60" y2="499.51" stroke="#000" stroke-width="2.05" stroke-linecap="butt"/>
<line x1="1591.50" y1="475.96" x2="1599.50" y2="475.96" stroke="#000" stroke-width="2.05" stroke-linecap="butt"/>
<line x1="2076.60" y1="475.96" x2="2068.60" y2="475.96" stroke="#000" stroke-width="2.05" stroke-linecap="butt"/>
<line x1="1591.50" y1="464.00" x2="1599.50" y2="464.00" stroke="#000" stroke-width="2.05" stroke-linecap="butt"/>
<line x1="2076.60" y1="464.00" x2="2068.60" y2="464.00" stroke="#000" stroke-width="2.05" stroke-linecap="butt"/>
<line x1="1591.50" y1="455.52" x2="1599.50" y2="455.52" stroke="#000" stroke-width="2.05" stroke-linecap="butt"/>
<line x1="2076.60" y1="455.52" x2="2068.60" y2="455.52" stroke="#000" stroke-width="2.05" stroke-linecap="butt"/>
<line x1="1591.50" y1="448.94" x2="1599.50" y2="448.94" stroke="#000" stroke-width="2.05" stroke-linecap="butt"/>
<line x1="2076.60" y1="448.94" x2="2068.60" y2="448.94" stroke="#000" stroke-width="2.05" stroke-linecap="butt"/>
<line x1="1591.50" y1="443.56" x2="1599.50" y2="443.56" stroke="#000" stroke-width="2.05" stroke-linecap="butt"/>
<line x1="2076.60" y1="443.56" x2="2068.60" y2="443.56" stroke="#000" stroke-width="2.05" stroke-linecap="butt"/>
<line x1="1591.50" y1="439.02" x2="1599.50" y2="439.02" stroke="#000" stroke-width="2.05" stroke-linecap="butt"/>
<line x1="2076.60" y1="439.02" x2="2068.60" y2="439.02" stroke="#000" stroke-width="2.05" stroke-linecap="butt"/>
<line x1="1591.50" y1="435.08" x2="1599.50" y2="435.08" stroke="#000" stroke-width="2.05" stroke-linecap="butt"/>
<line x1="2076.60" y1="435.08" x2="2068.60" y2="435.08" stroke="#000" stroke-width="2.05" stroke-linecap="butt"/>
<line x1="1591.50" y1="431.61" x2="1599.50" y2="431.61" stroke="#000" stroke-width="2.05" stroke-linecap="butt"/>
<line x1="2076.60" y1="431.61" x2="2068.60" y2="431.61" stroke="#000" stroke-width="2.05" stroke-linecap="butt"/>
<line x1="1591.50" y1="408.06" x2="1599.50" y2="408.06" stroke="#000" stroke-width="2.05" stroke-linecap="butt"/>
<line x1="2076.60" y1="408.06" x2="2068.60" y2="408.06" stroke="#000" stroke-width="2.05" stroke-linecap="butt"/>
<line x1="1591.50" y1="396.10" x2="1599.50" y2="396.10" stroke="#000" stroke-width="2.05" stroke-linecap="butt"/>
<line x1="2076.60" y1="396.10" x2="2068.60" y2="396.10" stroke="#000" stroke-width="2.05" stroke-linecap="butt"/>
<line x1="1591.50" y1="387.62" x2="1599.50" y2="387.62" stroke="#000" stroke-width="2.05" stroke-linecap="butt"/>
<line x1="2076.60" y1="387.62" x2="2068.60" y2="387.62" stroke="#000" stroke-width="2.05" stroke-linecap="butt"/>
<line x1="1591.50" y1="381.04" x2="1599.50" y2="381.04" stroke="#000" stroke-width="2.05" stroke-linecap="butt"/>
<line x1="2076.60" y1="381.04" x2="2068.60" y2="381.04" stroke="#000" stroke-width="2.05" stroke-linecap="butt"/>
<line x1="1591.50" y1="375.66" x2="1599.50" y2="375.66" stroke="#000" stroke-width="2.05" stroke-linecap="butt"/>
<line x1="2076.60" y1="375.66" x2="2068.60" y2="375.66" stroke="#000" stroke-width="2.05" stroke-linecap="butt"/>
<line x1="1591.50" y1="371.12" x2="1599.50" y2="371.12" stroke="#000" stroke-width="2.05" stroke-linecap="butt"/>
<line x1="2076.60" y1="371.12" x2="2068.60" y2="371.12" stroke="#000" stroke-width="2.05" stroke-linecap="butt"/>
<line x1="1591.50" y1="367.18" x2="1599.50" y2="367.18" stroke="#000" stroke-width="2.05" stroke-linecap="butt"/>
<line x1="2076.60" y1="367.18" x2="2068.60" y2="367.18" stroke="#000" stroke-width="2.05" stroke-linecap="butt"/>
<line x1="1591.50" y1="363.71" x2="1599.50" y2="363.71" stroke="#000" stroke-width="2.05" stroke-linecap="butt"/>
<line x1="2076.60" y1="363.71" x2="2068.60" y2="363.71" stroke="#000" stroke-width="2.05" stroke-linecap="butt"/>
<line x1="1591.50" y1="340.16" x2="1599.50" y2="340.16" stroke="#000" stroke-width="2.05" stroke-linecap="butt"/>
<line x1="2076.60" y1="340.16" x2="2068.60" y2="340.16" stroke="#000" stroke-width="2.05" stroke-linecap="butt"/>
<line x1="1591.50" y1="328.20" x2="1599.50" y2="328.20" stroke="#000" stroke-width="2.05" stroke-linecap="butt"/>
<line x1="2076.60" y1="328.20" x2="2068.60" y2="328.20" stroke="#000" stroke-width="2.05" stroke-linecap="butt"/>
<rect x="1591.5" y="320.5" width="485.0999999999999" height="242.20000000000005" fill="none" stroke="#000" stroke-width="2.4"/>
<clipPath id="fc4"><path clip-rule="evenodd" d="M1492.30 326.20H1588.30V390.20H1492.30ZM1534.17 371.12H1543.41V377.70H1534.17ZM1547.68 371.12H1556.57V377.70H1547.68Z"/></clipPath>
<g clip-path="url(#fc4)"><text transform="translate(1582.30,376.20) scale(1,1.035)" font-size="45" stroke="#000" text-anchor="end">10</text></g>
<clipPath id="fc5"><path clip-rule="evenodd" d="M1492.30 394.10H1588.30V458.10H1492.30ZM1559.20 439.02H1568.44V445.60H1559.20ZM1572.71 439.02H1581.60V445.60H1572.71Z"/></clipPath>
<g clip-path="url(#fc5)"><text transform="translate(1582.30,444.10) scale(1,1.035)" font-size="45" stroke="#000" text-anchor="end">1</text></g>
<clipPath id="fc6"><path clip-rule="evenodd" d="M1492.30 462.00H1588.30V526.00H1492.30ZM1559.20 506.92H1568.44V513.50H1559.20ZM1572.71 506.92H1581.60V513.50H1572.71Z"/></clipPath>
<g clip-path="url(#fc6)"><text transform="translate(1582.30,512.00) scale(1,1.035)" font-size="45" stroke="#000" text-anchor="end">0.1</text></g>
<line x1="1601.35" y1="566.70" x2="1601.35" y2="574.70" stroke="#000" stroke-width="2.05" stroke-linecap="butt"/>
<line x1="1601.35" y1="810.60" x2="1601.35" y2="802.60" stroke="#000" stroke-width="2.05" stroke-linecap="butt"/>
<line x1="1613.49" y1="566.70" x2="1613.49" y2="574.70" stroke="#000" stroke-width="2.05" stroke-linecap="butt"/>
<line x1="1613.49" y1="810.60" x2="1613.49" y2="802.60" stroke="#000" stroke-width="2.05" stroke-linecap="butt"/>
<line x1="1625.63" y1="566.70" x2="1625.63" y2="574.70" stroke="#000" stroke-width="2.05" stroke-linecap="butt"/>
<line x1="1625.63" y1="810.60" x2="1625.63" y2="802.60" stroke="#000" stroke-width="2.05" stroke-linecap="butt"/>
<line x1="1637.78" y1="566.70" x2="1637.78" y2="574.70" stroke="#000" stroke-width="2.05" stroke-linecap="butt"/>
<line x1="1637.78" y1="810.60" x2="1637.78" y2="802.60" stroke="#000" stroke-width="2.05" stroke-linecap="butt"/>
<line x1="1649.92" y1="566.70" x2="1649.92" y2="581.40" stroke="#000" stroke-width="2.05" stroke-linecap="butt"/>
<line x1="1649.92" y1="810.60" x2="1649.92" y2="795.90" stroke="#000" stroke-width="2.05" stroke-linecap="butt"/>
<line x1="1662.07" y1="566.70" x2="1662.07" y2="574.70" stroke="#000" stroke-width="2.05" stroke-linecap="butt"/>
<line x1="1662.07" y1="810.60" x2="1662.07" y2="802.60" stroke="#000" stroke-width="2.05" stroke-linecap="butt"/>
<line x1="1674.22" y1="566.70" x2="1674.22" y2="574.70" stroke="#000" stroke-width="2.05" stroke-linecap="butt"/>
<line x1="1674.22" y1="810.60" x2="1674.22" y2="802.60" stroke="#000" stroke-width="2.05" stroke-linecap="butt"/>
<line x1="1686.36" y1="566.70" x2="1686.36" y2="574.70" stroke="#000" stroke-width="2.05" stroke-linecap="butt"/>
<line x1="1686.36" y1="810.60" x2="1686.36" y2="802.60" stroke="#000" stroke-width="2.05" stroke-linecap="butt"/>
<line x1="1698.51" y1="566.70" x2="1698.51" y2="574.70" stroke="#000" stroke-width="2.05" stroke-linecap="butt"/>
<line x1="1698.51" y1="810.60" x2="1698.51" y2="802.60" stroke="#000" stroke-width="2.05" stroke-linecap="butt"/>
<line x1="1710.65" y1="566.70" x2="1710.65" y2="581.40" stroke="#000" stroke-width="2.05" stroke-linecap="butt"/>
<line x1="1710.65" y1="810.60" x2="1710.65" y2="795.90" stroke="#000" stroke-width="2.05" stroke-linecap="butt"/>
<line x1="1722.80" y1="566.70" x2="1722.80" y2="574.70" stroke="#000" stroke-width="2.05" stroke-linecap="butt"/>
<line x1="1722.80" y1="810.60" x2="1722.80" y2="802.60" stroke="#000" stroke-width="2.05" stroke-linecap="butt"/>
<line x1="1734.94" y1="566.70" x2="1734.94" y2="574.70" stroke="#000" stroke-width="2.05" stroke-linecap="butt"/>
<line x1="1734.94" y1="810.60" x2="1734.94" y2="802.60" stroke="#000" stroke-width="2.05" stroke-linecap="butt"/>
<line x1="1747.09" y1="566.70" x2="1747.09" y2="574.70" stroke="#000" stroke-width="2.05" stroke-linecap="butt"/>
<line x1="1747.09" y1="810.60" x2="1747.09" y2="802.60" stroke="#000" stroke-width="2.05" stroke-linecap="butt"/>
<line x1="1759.23" y1="566.70" x2="1759.23" y2="574.70" stroke="#000" stroke-width="2.05" stroke-linecap="butt"/>
<line x1="1759.23" y1="810.60" x2="1759.23" y2="802.60" stroke="#000" stroke-width="2.05" stroke-linecap="butt"/>
<line x1="1771.38" y1="566.70" x2="1771.38" y2="581.40" stroke="#000" stroke-width="2.05" stroke-linecap="butt"/>
<line x1="1771.38" y1="810.60" x2="1771.38" y2="795.90" stroke="#000" stroke-width="2.05" stroke-linecap="butt"/>
<line x1="1783.52" y1="566.70" x2="1783.52" y2="574.70" stroke="#000" stroke-width="2.05" stroke-linecap="butt"/>
<line x1="1783.52" y1="810.60" x2="1783.52" y2="802.60" stroke="#000" stroke-width="2.05" stroke-linecap="butt"/>
<line x1="1795.66" y1="566.70" x2="1795.66" y2="574.70" stroke="#000" stroke-width="2.05" stroke-linecap="butt"/>
<line x1="1795.66" y1="810.60" x2="1795.66" y2="802.60" stroke="#000" stroke-width="2.05" stroke-linecap="butt"/>
<line x1="1807.81" y1="566.70" x2="1807.81" y2="574.70" stroke="#000" stroke-width="2.05" stroke-linecap="butt"/>
<line x1="1807.81" y1="810.60" x2="1807.81" y2="802.60" stroke="#000" stroke-width="2.05" stroke-linecap="butt"/>
<line x1="1819.95" y1="566.70" x2="1819.95" y2="574.70" stroke="#000" stroke-width="2.05" stroke-linecap="butt"/>
<line x1="1819.95" y1="810.60" x2="1819.95" y2="802.60" stroke="#000" stroke-width="2.05" stroke-linecap="butt"/>
<line x1="1832.10" y1="566.70" x2="1832.10" y2="581.40" stroke="#000" stroke-width="2.05" stroke-linecap="butt"/>
<line x1="1832.10" y1="810.60" x2="1832.10" y2="795.90" stroke="#000" stroke-width="2.05" stroke-linecap="butt"/>
<line x1="1844.25" y1="566.70" x2="1844.25" y2="574.70" stroke="#000" stroke-width="2.05" stroke-linecap="butt"/>
<line x1="1844.25" y1="810.60" x2="1844.25" y2="802.60" stroke="#000" stroke-width="2.05" stroke-linecap="butt"/>
<line x1="1856.39" y1="566.70" x2="1856.39" y2="574.70" stroke="#000" stroke-width="2.05" stroke-linecap="butt"/>
<line x1="1856.39" y1="810.60" x2="1856.39" y2="802.60" stroke="#000" stroke-width="2.05" stroke-linecap="butt"/>
<line x1="1868.54" y1="566.70" x2="1868.54" y2="574.70" stroke="#000" stroke-width="2.05" stroke-linecap="butt"/>
<line x1="1868.54" y1="810.60" x2="1868.54" y2="802.60" stroke="#000" stroke-width="2.05" stroke-linecap="butt"/>
<line x1="1880.68" y1="566.70" x2="1880.68" y2="574.70" stroke="#000" stroke-width="2.05" stroke-linecap="butt"/>
<line x1="1880.68" y1="810.60" x2="1880.68" y2="802.60" stroke="#000" stroke-width="2.05" stroke-linecap="butt"/>
<line x1="1892.83" y1="566.70" x2="1892.83" y2="581.40" stroke="#000" stroke-width="2.05" stroke-linecap="butt"/>
<line x1="1892.83" y1="810.60" x2="1892.83" y2="795.90" stroke="#000" stroke-width="2.05" stroke-linecap="butt"/>
<line x1="1904.97" y1="566.70" x2="1904.97" y2="574.70" stroke="#000" stroke-width="2.05" stroke-linecap="butt"/>
<line x1="1904.97" y1="810.60" x2="1904.97" y2="802.60" stroke="#000" stroke-width="2.05" stroke-linecap="butt"/>
<line x1="1917.12" y1="566.70" x2="1917.12" y2="574.70" stroke="#000" stroke-width="2.05" stroke-linecap="butt"/>
<line x1="1917.12" y1="810.60" x2="1917.12" y2="802.60" stroke="#000" stroke-width="2.05" stroke-linecap="butt"/>
<line x1="1929.26" y1="566.70" x2="1929.26" y2="574.70" stroke="#000" stroke-width="2.05" stroke-linecap="butt"/>
<line x1="1929.26" y1="810.60" x2="1929.26" y2="802.60" stroke="#000" stroke-width="2.05" stroke-linecap="butt"/>
<line x1="1941.40" y1="566.70" x2="1941.40" y2="574.70" stroke="#000" stroke-width="2.05" stroke-linecap="butt"/>
<line x1="1941.40" y1="810.60" x2="1941.40" y2="802.60" stroke="#000" stroke-width="2.05" stroke-linecap="butt"/>
<line x1="1953.55" y1="566.70" x2="1953.55" y2="581.40" stroke="#000" stroke-width="2.05" stroke-linecap="butt"/>
<line x1="1953.55" y1="810.60" x2="1953.55" y2="795.90" stroke="#000" stroke-width="2.05" stroke-linecap="butt"/>
<line x1="1965.70" y1="566.70" x2="1965.70" y2="574.70" stroke="#000" stroke-width="2.05" stroke-linecap="butt"/>
<line x1="1965.70" y1="810.60" x2="1965.70" y2="802.60" stroke="#000" stroke-width="2.05" stroke-linecap="butt"/>
<line x1="1977.84" y1="566.70" x2="1977.84" y2="574.70" stroke="#000" stroke-width="2.05" stroke-linecap="butt"/>
<line x1="1977.84" y1="810.60" x2="1977.84" y2="802.60" stroke="#000" stroke-width="2.05" stroke-linecap="butt"/>
<line x1="1989.99" y1="566.70" x2="1989.99" y2="574.70" stroke="#000" stroke-width="2.05" stroke-linecap="butt"/>
<line x1="1989.99" y1="810.60" x2="1989.99" y2="802.60" stroke="#000" stroke-width="2.05" stroke-linecap="butt"/>
<line x1="2002.13" y1="566.70" x2="2002.13" y2="574.70" stroke="#000" stroke-width="2.05" stroke-linecap="butt"/>
<line x1="2002.13" y1="810.60" x2="2002.13" y2="802.60" stroke="#000" stroke-width="2.05" stroke-linecap="butt"/>
<line x1="2014.28" y1="566.70" x2="2014.28" y2="581.40" stroke="#000" stroke-width="2.05" stroke-linecap="butt"/>
<line x1="2014.28" y1="810.60" x2="2014.28" y2="795.90" stroke="#000" stroke-width="2.05" stroke-linecap="butt"/>
<line x1="2026.42" y1="566.70" x2="2026.42" y2="574.70" stroke="#000" stroke-width="2.05" stroke-linecap="butt"/>
<line x1="2026.42" y1="810.60" x2="2026.42" y2="802.60" stroke="#000" stroke-width="2.05" stroke-linecap="butt"/>
<line x1="2038.57" y1="566.70" x2="2038.57" y2="574.70" stroke="#000" stroke-width="2.05" stroke-linecap="butt"/>
<line x1="2038.57" y1="810.60" x2="2038.57" y2="802.60" stroke="#000" stroke-width="2.05" stroke-linecap="butt"/>
<line x1="2050.71" y1="566.70" x2="2050.71" y2="574.70" stroke="#000" stroke-width="2.05" stroke-linecap="butt"/>
<line x1="2050.71" y1="810.60" x2="2050.71" y2="802.60" stroke="#000" stroke-width="2.05" stroke-linecap="butt"/>
<line x1="2062.86" y1="566.70" x2="2062.86" y2="574.70" stroke="#000" stroke-width="2.05" stroke-linecap="butt"/>
<line x1="2062.86" y1="810.60" x2="2062.86" y2="802.60" stroke="#000" stroke-width="2.05" stroke-linecap="butt"/>
<line x1="1589.20" y1="607.40" x2="1603.90" y2="607.40" stroke="#000" stroke-width="2.05" stroke-linecap="butt"/>
<line x1="2075.00" y1="607.40" x2="2060.30" y2="607.40" stroke="#000" stroke-width="2.05" stroke-linecap="butt"/>
<line x1="1589.20" y1="675.25" x2="1603.90" y2="675.25" stroke="#000" stroke-width="2.05" stroke-linecap="butt"/>
<line x1="2075.00" y1="675.25" x2="2060.30" y2="675.25" stroke="#000" stroke-width="2.05" stroke-linecap="butt"/>
<line x1="1589.20" y1="743.10" x2="1603.90" y2="743.10" stroke="#000" stroke-width="2.05" stroke-linecap="butt"/>
<line x1="2075.00" y1="743.10" x2="2060.30" y2="743.10" stroke="#000" stroke-width="2.05" stroke-linecap="butt"/>
<line x1="1589.20" y1="790.53" x2="1597.20" y2="790.53" stroke="#000" stroke-width="2.05" stroke-linecap="butt"/>
<line x1="2075.00" y1="790.53" x2="2067.00" y2="790.53" stroke="#000" stroke-width="2.05" stroke-linecap="butt"/>
<line x1="1589.20" y1="778.58" x2="1597.20" y2="778.58" stroke="#000" stroke-width="2.05" stroke-linecap="butt"/>
<line x1="2075.00" y1="778.58" x2="2067.00" y2="778.58" stroke="#000" stroke-width="2.05" stroke-linecap="butt"/>
<line x1="1589.20" y1="770.10" x2="1597.20" y2="770.10" stroke="#000" stroke-width="2.05" stroke-linecap="butt"/>
<line x1="2075.00" y1="770.10" x2="2067.00" y2="770.10" stroke="#000" stroke-width="2.05" stroke-linecap="butt"/>
<line x1="1589.20" y1="763.52" x2="1597.20" y2="763.52" stroke="#000" stroke-width="2.05" stroke-linecap="butt"/>
<line x1="2075.00" y1="763.52" x2="2067.00" y2="763.52" stroke="#000" stroke-width="2.05" stroke-linecap="butt"/>
<line x1="1589.20" y1="758.15" x2="1597.20" y2="758.15" stroke="#000" stroke-width="2.05" stroke-linecap="butt"/>
<line x1="2075.00" y1="758.15" x2="2067.00" y2="758.15" stroke="#000" stroke-width="2.05" stroke-linecap="butt"/>
<line x1="1589.20" y1="753.61" x2="1597.20" y2="753.61" stroke="#000" stroke-width="2.05" stroke-linecap="butt"/>
<line x1="2075.00" y1="753.61" x2="2067.00" y2="753.61" stroke="#000" stroke-width="2.05" stroke-linecap="butt"/>
<line x1="1589.20" y1="749.68" x2="1597.20" y2="749.68" stroke="#000" stroke-width="2.05" stroke-linecap="butt"/>
<line x1="2075.00" y1="749.68" x2="2067.00" y2="749.68" stroke="#000" stroke-width="2.05" stroke-linecap="butt"/>
<line x1="1589.20" y1="746.20" x2="1597.20" y2="746.20" stroke="#000" stroke-width="2.05" stroke-linecap="butt"/>
<line x1="2075.00" y1="746.20" x2="2067.00" y2="746.20" stroke="#000" stroke-width="2.05" stroke-linecap="butt"/>
<line x1="1589.20" y1="722.68" x2="1597.20" y2="722.68" stroke="#000" stroke-width="2.05" stroke-linecap="butt"/>
<line x1="2075.00" y1="722.68" x2="2067.00" y2="722.68" stroke="#000" stroke-width="2.05" stroke-linecap="butt"/>
<line x1="1589.20" y1="710.73" x2="1597.20" y2="710.73" stroke="#000" stroke-width="2.05" stroke-linecap="butt"/>
<line x1="2075.00" y1="710.73" x2="2067.00" y2="710.73" stroke="#000" stroke-width="2.05" stroke-linecap="butt"/>
<line x1="1589.20" y1="702.25" x2="1597.20" y2="702.25" stroke="#000" stroke-width="2.05" stroke-linecap="butt"/>
<line x1="2075.00" y1="702.25" x2="2067.00" y2="702.25" stroke="#000" stroke-width="2.05" stroke-linecap="butt"/>
<line x1="1589.20" y1="695.67" x2="1597.20" y2="695.67" stroke="#000" stroke-width="2.05" stroke-linecap="butt"/>
<line x1="2075.00" y1="695.67" x2="2067.00" y2="695.67" stroke="#000" stroke-width="2.05" stroke-linecap="butt"/>
<line x1="1589.20" y1="690.30" x2="1597.20" y2="690.30" stroke="#000" stroke-width="2.05" stroke-linecap="butt"/>
<line x1="2075.00" y1="690.30" x2="2067.00" y2="690.30" stroke="#000" stroke-width="2.05" stroke-linecap="butt"/>
<line x1="1589.20" y1="685.76" x2="1597.20" y2="685.76" stroke="#000" stroke-width="2.05" stroke-linecap="butt"/>
<line x1="2075.00" y1="685.76" x2="2067.00" y2="685.76" stroke="#000" stroke-width="2.05" stroke-linecap="butt"/>
<line x1="1589.20" y1="681.83" x2="1597.20" y2="681.83" stroke="#000" stroke-width="2.05" stroke-linecap="butt"/>
<line x1="2075.00" y1="681.83" x2="2067.00" y2="681.83" stroke="#000" stroke-width="2.05" stroke-linecap="butt"/>
<line x1="1589.20" y1="678.35" x2="1597.20" y2="678.35" stroke="#000" stroke-width="2.05" stroke-linecap="butt"/>
<line x1="2075.00" y1="678.35" x2="2067.00" y2="678.35" stroke="#000" stroke-width="2.05" stroke-linecap="butt"/>
<line x1="1589.20" y1="654.83" x2="1597.20" y2="654.83" stroke="#000" stroke-width="2.05" stroke-linecap="butt"/>
<line x1="2075.00" y1="654.83" x2="2067.00" y2="654.83" stroke="#000" stroke-width="2.05" stroke-linecap="butt"/>
<line x1="1589.20" y1="642.88" x2="1597.20" y2="642.88" stroke="#000" stroke-width="2.05" stroke-linecap="butt"/>
<line x1="2075.00" y1="642.88" x2="2067.00" y2="642.88" stroke="#000" stroke-width="2.05" stroke-linecap="butt"/>
<line x1="1589.20" y1="634.40" x2="1597.20" y2="634.40" stroke="#000" stroke-width="2.05" stroke-linecap="butt"/>
<line x1="2075.00" y1="634.40" x2="2067.00" y2="634.40" stroke="#000" stroke-width="2.05" stroke-linecap="butt"/>
<line x1="1589.20" y1="627.82" x2="1597.20" y2="627.82" stroke="#000" stroke-width="2.05" stroke-linecap="butt"/>
<line x1="2075.00" y1="627.82" x2="2067.00" y2="627.82" stroke="#000" stroke-width="2.05" stroke-linecap="butt"/>
<line x1="1589.20" y1="622.45" x2="1597.20" y2="622.45" stroke="#000" stroke-width="2.05" stroke-linecap="butt"/>
<line x1="2075.00" y1="622.45" x2="2067.00" y2="622.45" stroke="#000" stroke-width="2.05" stroke-linecap="butt"/>
<line x1="1589.20" y1="617.91" x2="1597.20" y2="617.91" stroke="#000" stroke-width="2.05" stroke-linecap="butt"/>
<line x1="2075.00" y1="617.91" x2="2067.00" y2="617.91" stroke="#000" stroke-width="2.05" stroke-linecap="butt"/>
<line x1="1589.20" y1="613.98" x2="1597.20" y2="613.98" stroke="#000" stroke-width="2.05" stroke-linecap="butt"/>
<line x1="2075.00" y1="613.98" x2="2067.00" y2="613.98" stroke="#000" stroke-width="2.05" stroke-linecap="butt"/>
<line x1="1589.20" y1="610.50" x2="1597.20" y2="610.50" stroke="#000" stroke-width="2.05" stroke-linecap="butt"/>
<line x1="2075.00" y1="610.50" x2="2067.00" y2="610.50" stroke="#000" stroke-width="2.05" stroke-linecap="butt"/>
<line x1="1589.20" y1="586.98" x2="1597.20" y2="586.98" stroke="#000" stroke-width="2.05" stroke-linecap="butt"/>
<line x1="2075.00" y1="586.98" x2="2067.00" y2="586.98" stroke="#000" stroke-width="2.05" stroke-linecap="butt"/>
<line x1="1589.20" y1="575.03" x2="1597.20" y2="575.03" stroke="#000" stroke-width="2.05" stroke-linecap="butt"/>
<line x1="2075.00" y1="575.03" x2="2067.00" y2="575.03" stroke="#000" stroke-width="2.05" stroke-linecap="butt"/>
<rect x="1589.2" y="566.7" width="485.79999999999995" height="243.89999999999998" fill="none" stroke="#000" stroke-width="2.4"/>
<clipPath id="fc7"><path clip-rule="evenodd" d="M1491.50 573.00H1587.50V637.00H1491.50ZM1533.37 617.92H1542.61V624.50H1533.37ZM1546.88 617.92H1555.77V624.50H1546.88Z"/></clipPath>
<g clip-path="url(#fc7)"><text transform="translate(1581.50,623.00) scale(1,1.035)" font-size="45" stroke="#000" text-anchor="end">10</text></g>
<clipPath id="fc8"><path clip-rule="evenodd" d="M1491.50 640.85H1587.50V704.85H1491.50ZM1558.40 685.77H1567.64V692.35H1558.40ZM1571.91 685.77H1580.80V692.35H1571.91Z"/></clipPath>
<g clip-path="url(#fc8)"><text transform="translate(1581.50,690.85) scale(1,1.035)" font-size="45" stroke="#000" text-anchor="end">1</text></g>
<clipPath id="fc9"><path clip-rule="evenodd" d="M1491.50 708.70H1587.50V772.70H1491.50ZM1558.40 753.62H1567.64V760.20H1558.40ZM1571.91 753.62H1580.80V760.20H1571.91Z"/></clipPath>
<g clip-path="url(#fc9)"><text transform="translate(1581.50,758.70) scale(1,1.035)" font-size="45" stroke="#000" text-anchor="end">0.1</text></g>
<text transform="translate(902.50,852.30) scale(1,1.035)" font-size="45" stroke="#000" text-anchor="middle">−40</text>
<text transform="translate(1016.30,852.30) scale(1,1.035)" font-size="45" stroke="#000" text-anchor="middle">−20</text>
<text transform="translate(1144.20,852.30) scale(1,1.035)" font-size="45" stroke="#000" text-anchor="middle">0</text>
<text transform="translate(1270.80,852.30) scale(1,1.035)" font-size="45" stroke="#000" text-anchor="middle">20</text>
<text transform="translate(1389.60,852.30) scale(1,1.035)" font-size="45" stroke="#000" text-anchor="middle">40</text>
<text x="980.2" y="891.5" font-size="45" fill="#000" stroke="#000" text-anchor="start" font-weight="normal" >Gate voltage (V)</text>
<text transform="translate(1589.20,848.20) scale(1,1.035)" font-size="45" stroke="#000" text-anchor="middle">−40</text>
<text transform="translate(1703.00,848.20) scale(1,1.035)" font-size="45" stroke="#000" text-anchor="middle">−20</text>
<text transform="translate(1830.90,848.20) scale(1,1.035)" font-size="45" stroke="#000" text-anchor="middle">0</text>
<text transform="translate(1957.50,848.20) scale(1,1.035)" font-size="45" stroke="#000" text-anchor="middle">20</text>
<text transform="translate(2076.30,848.20) scale(1,1.035)" font-size="45" stroke="#000" text-anchor="middle">40</text>
<text x="1672.0" y="889.7" font-size="45" fill="#000" stroke="#000" text-anchor="start" font-weight="normal" >Gate voltage (V)</text>
<text transform="translate(835.4,437.9) rotate(-90)" font-size="45.2" stroke="#000" text-anchor="middle">Source−drain current (µA)</text>
<text transform="translate(1510.5,434.0) rotate(-90)" font-size="45.2" stroke="#000" text-anchor="middle">Source−drain current (µA)</text>
<text x="1053.8" y="128.5" font-size="45" fill="#000" stroke="#000" text-anchor="start" font-weight="normal" >evap Ag</text>
<text x="1054.5" y="377.5" font-size="45" stroke="#000"><tspan font-style="italic">p</tspan>-doped <tspan font-weight="bold">P2</tspan></text>
<clipPath id="fc10"><path clip-rule="evenodd" d="M1044.50 573.60H1304.50V639.60H1044.50ZM1266.57 617.41H1275.59V625.10H1266.57ZM1282.07 617.41H1290.51V625.10H1282.07Z"/></clipPath>
<g clip-path="url(#fc10)"><text x="1055.1" y="623.6" font-size="45" stroke="#000"><tspan font-style="italic">n</tspan>-doped <tspan font-weight="bold">N1</tspan></text></g>
<text x="1743.0" y="125.1" font-size="45" fill="#000" stroke="#000" text-anchor="start" font-weight="normal" >evap Ag</text>
<text x="1743.7" y="374.7" font-size="45" stroke="#000"><tspan font-style="italic">p</tspan>-doped <tspan font-weight="bold">P2</tspan></text>
<clipPath id="fc11"><path clip-rule="evenodd" d="M1733.70 571.00H1993.70V637.00H1733.70ZM1955.77 614.81H1964.79V622.50H1955.77ZM1971.27 614.81H1979.71V622.50H1971.27Z"/></clipPath>
<g clip-path="url(#fc11)"><text x="1744.3" y="621.0" font-size="45" stroke="#000"><tspan font-style="italic">n</tspan>-doped <tspan font-weight="bold">N1</tspan></text></g>
</svg>
</body></html>
